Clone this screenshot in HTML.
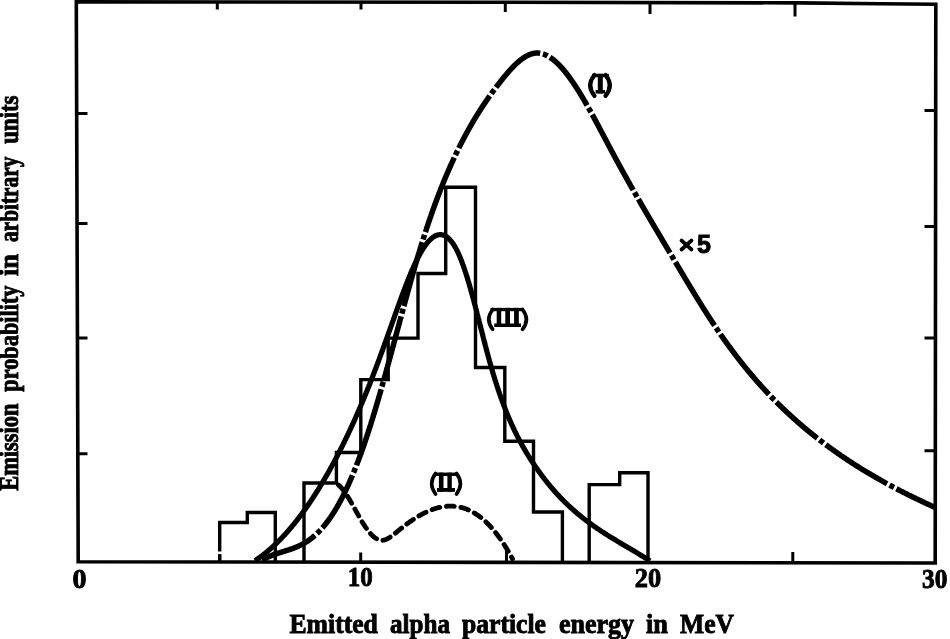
<!DOCTYPE html>
<html><head><meta charset="utf-8"><style>
html,body{margin:0;padding:0;background:#fff;}
svg{display:block;filter:grayscale(1);}
text{font-family:"Liberation Serif", serif;font-weight:bold;fill:#000;stroke:#000;stroke-width:0.9px;}
</style></head><body>
<svg width="950" height="639" viewBox="0 0 950 639">
<rect width="950" height="639" fill="#fff"/>
<g fill="none" stroke="#000" stroke-linecap="butt" stroke-linejoin="miter">
<path d="M76.3 1.9 L500 2.3 L800 2.9 L880 3.8 L935.8 4.2 L935.2 563.0 L78.2 561.8 Z" stroke-width="3.6"/>
<path d="M77 113.4 H87.5 M77 223.5 H87.5 M77 338 H87.5 M77 453.8 H87.5 M935.5 110.5 H924.5 M935.5 226.4 H924.5 M935.5 338 H924.5 M935.5 450.8 H924.5 M219.7 562 V554.3 M360.7 562 V552.5 M506.5 562 V550.5 M792.8 562 V552 M217.3 3 V9.5 M361 3 V9.5 M505.3 3 V12 M650 3 V14 M795 3 V16.5" stroke-width="3"/>
<path d="M219.7 562 V554.3 M219.7 551.6 V522.5 H247.3 V512.5 H275.3 V562 M304 562 V483 H336.4 V452.5 H360.8 V379.6 H388.2 V338.1 H418 V273.5 H445.7 V187.2 H475.5 V367.5 H504.8 V441.3 H533.5 V512 H562.4 V562 M589.2 562 V484.6 H619.7 V472.8 H648 V562" stroke-width="3.4"/>
<path d="M255.00 560.66 L255.42 560.39 L255.83 560.11 L256.25 559.83 L256.66 559.55 L257.08 559.27 L257.49 558.98 L257.90 558.70 L258.31 558.41 L258.72 558.12 L259.12 557.83 L259.53 557.54 L259.93 557.25 L260.34 556.95 L260.74 556.66 L261.14 556.36 L261.54 556.06 L261.94 555.76 L262.34 555.46 L262.74 555.15 L263.13 554.85 L263.53 554.54 L263.92 554.23 L264.31 553.92 L264.71 553.61 L265.10 553.30 L265.49 552.99 L265.87 552.67 L266.26 552.35 L266.65 552.04 L267.03 551.72 L267.42 551.40 L267.80 551.08 L268.18 550.75 L268.56 550.43 L268.94 550.11 L269.32 549.78 L269.70 549.45 L270.08 549.12 L270.45 548.79 L270.83 548.46 L271.20 548.13 L271.57 547.80 L271.95 547.46 L272.32 547.13 L272.69 546.79 L273.06 546.45 L273.42 546.11 L273.79 545.77 L274.16 545.43 L274.52 545.09 L274.88 544.75 L275.25 544.40 L275.61 544.06 L275.97 543.71 L276.33 543.37 L276.69 543.02 L277.05 542.67 L277.40 542.32 L277.76 541.97 L278.11 541.62 L278.47 541.26 L278.82 540.91 L279.17 540.55 L279.53 540.20 L279.88 539.84 L280.23 539.48 L280.57 539.13 L280.92 538.77 L281.27 538.41 L281.62 538.05 L281.96 537.68 L282.30 537.32 L282.65 536.96 L282.99 536.59 L283.33 536.23 L283.67 535.86 L284.01 535.50 L284.35 535.13 L284.69 534.76 L285.03 534.39 L285.36 534.02 L285.70 533.65 L286.03 533.28 L286.37 532.91 L286.70 532.53 L287.03 532.16 L287.36 531.79 L287.69 531.41 L288.02 531.03 L288.35 530.66 L288.68 530.28 L289.01 529.90 L289.33 529.52 L289.66 529.14 L289.99 528.76 L290.31 528.38 L290.63 528.00 L290.96 527.62 L291.28 527.24 L291.60 526.85 L291.92 526.47 L292.24 526.09 L292.56 525.70 L292.87 525.31 L293.19 524.93 L293.51 524.54 L293.82 524.15 L294.14 523.76 L294.45 523.38 L294.77 522.99 L295.08 522.60 L295.39 522.21 L295.70 521.81 L296.01 521.42 L296.32 521.03 L296.63 520.64 L296.94 520.24 L297.25 519.85 L297.55 519.45 L297.86 519.06 L298.17 518.66 L298.47 518.27 L298.78 517.87 L299.08 517.47 L299.38 517.07 L299.68 516.68 L299.99 516.28 L300.29 515.88 L300.59 515.48 L300.89 515.08 L301.18 514.68 L301.48 514.28 L301.78 513.87 L302.08 513.47 L302.37 513.07 L302.67 512.67 L302.96 512.26 L303.26 511.86 L303.55 511.45 L303.84 511.05 L304.14 510.64 L304.43 510.24 L304.72 509.83 L305.01 509.42 L305.30 509.01 L305.59 508.61 L305.88 508.20 L306.17 507.79 L306.45 507.38 L306.74 506.97 L307.03 506.56 L307.31 506.15 L307.60 505.74 L307.88 505.33 L308.16 504.92 L308.45 504.50 L308.73 504.09 L309.01 503.68 L309.29 503.27 L309.57 502.85 L309.85 502.44 L310.13 502.02 L310.41 501.61 L310.69 501.19 L310.97 500.78 L311.25 500.36 L311.52 499.95 L311.80 499.53 L312.08 499.11 L312.35 498.69 L312.63 498.28 L312.90 497.86 L313.17 497.44 L313.45 497.02 L313.72 496.60 L313.99 496.18 L314.26 495.76 L314.53 495.34 L314.80 494.92 L315.07 494.50 L315.34 494.08 L315.61 493.66 L315.88 493.24 L316.15 492.81 L316.41 492.39 L316.68 491.97 L316.95 491.54 L317.21 491.12 L317.48 490.70 L317.74 490.27 L318.01 489.85 L318.27 489.42 L318.53 489.00 L318.80 488.57 L319.06 488.15 L319.32 487.72 L319.58 487.29 L319.84 486.87 L320.10 486.44 L320.36 486.01 L320.62 485.59 L320.88 485.16 L321.14 484.73 L321.40 484.30 L321.65 483.87 L321.91 483.44 L322.17 483.02 L322.42 482.59 L322.68 482.16 L322.93 481.73 L323.19 481.30 L323.44 480.87 L323.70 480.43 L323.95 480.00 L324.20 479.57 L324.46 479.14 L324.71 478.71 L324.96 478.28 L325.21 477.84 L325.46 477.41 L325.71 476.98 L325.96 476.54 L326.21 476.11 L326.46 475.68 L326.71 475.24 L326.95 474.81 L327.20 474.38 L327.45 473.94 L327.70 473.51 L327.94 473.07 L328.19 472.64 L328.43 472.20 L328.68 471.76 L328.92 471.33 L329.17 470.89 L329.41 470.45 L329.65 470.02 L329.90 469.58 L330.14 469.14 L330.38 468.71 L330.62 468.27 L330.87 467.83 L331.11 467.39 L331.35 466.95 L331.59 466.52 L331.83 466.08 L332.07 465.64 L332.31 465.20 L332.54 464.76 L332.78 464.32 L333.02 463.88 L333.26 463.44 L333.49 463.00 L333.73 462.56 L333.97 462.12 L334.20 461.68 L334.44 461.24 L334.67 460.79 L334.91 460.35 L335.14 459.91 L335.38 459.47 L335.61 459.03 L335.84 458.59 L336.08 458.14 L336.31 457.70 L336.54 457.26 L336.77 456.81 L337.00 456.37 L337.23 455.93 L337.46 455.48 L337.69 455.04 L337.92 454.60 L338.15 454.15 L338.38 453.71 L338.61 453.26 L338.84 452.82 L339.07 452.37 L339.29 451.93 L339.52 451.48 L339.75 451.04 L339.98 450.59 L340.20 450.14 L340.43 449.70 L340.65 449.25 L340.88 448.81 L341.10 448.36 L341.33 447.91 L341.55 447.47 L341.77 447.02 L342.00 446.57 L342.22 446.12 L342.44 445.68 L342.67 445.23 L342.89 444.78 L343.11 444.33 L343.33 443.88 L343.55 443.43 L343.77 442.99 L343.99 442.54 L344.21 442.09 L344.43 441.64 L344.65 441.19 L344.87 440.74 L345.09 440.29 L345.31 439.84 L345.53 439.39 L345.74 438.94 L345.96 438.49 L346.18 438.04 L346.39 437.59 L346.61 437.14 L346.83 436.69 L347.04 436.24 L347.26 435.78 L347.47 435.33 L347.69 434.88 L347.90 434.43 L348.11 433.98 L348.33 433.53 L348.54 433.07 L348.75 432.62 L348.97 432.17 L349.18 431.72 L349.39 431.26 L349.60 430.81 L349.82 430.36 L350.03 429.90 L350.24 429.45 L350.45 429.00 L350.66 428.54 L350.87 428.09 L351.08 427.64 L351.29 427.18 L351.50 426.73 L351.71 426.27 L351.91 425.82 L352.12 425.36 L352.33 424.91 L352.54 424.45 L352.74 424.00 L352.95 423.54 L353.16 423.09 L353.36 422.63 L353.57 422.18 L353.78 421.72 L353.98 421.27 L354.19 420.81 L354.39 420.35 L354.60 419.90 L354.80 419.44 L355.00 418.99 L355.21 418.53 L355.41 418.07 L355.61 417.61 L355.82 417.16 L356.02 416.70 L356.22 416.24 L356.42 415.79 L356.63 415.33 L356.83 414.87 L357.03 414.41 L357.23 413.96 L357.43 413.50 L357.63 413.04 L357.83 412.58 L358.03 412.12 L358.23 411.66 L358.43 411.21 L358.63 410.75 L358.83 410.29 L359.02 409.83 L359.22 409.37 L359.42 408.91 L359.62 408.45 L359.81 407.99 L360.01 407.53 L360.21 407.07 L360.41 406.61 L360.60 406.15 L360.80 405.69 L360.99 405.23 L361.19 404.77 L361.38 404.31 L361.58 403.85 L361.77 403.39 L361.97 402.93 L362.16 402.47 L362.36 402.01 L362.55 401.55 L362.74 401.09 L362.94 400.63 L363.13 400.16 L363.32 399.70 L363.51 399.24 L363.71 398.78 L363.90 398.32 L364.09 397.86 L364.28 397.39 L364.47 396.93 L364.66 396.47 L364.85 396.01 L365.04 395.55 L365.23 395.08 L365.42 394.62 L365.61 394.16 L365.80 393.69 L365.99 393.23 L366.18 392.77 L366.37 392.31 L366.56 391.84 L366.74 391.38 L366.93 390.92 L367.12 390.45 L367.31 389.99 L367.49 389.53 L367.68 389.06 L367.87 388.60 L368.05 388.13 L368.24 387.67 L368.43 387.21 L368.61 386.74 L368.80 386.28 L368.98 385.81 L369.17 385.35 L369.35 384.88 L369.54 384.42 L369.72 383.95 L369.90 383.49 L370.09 383.02 L370.27 382.56 L370.45 382.09 L370.64 381.63 L370.82 381.16 L371.00 380.70 L371.19 380.23 L371.37 379.77 L371.55 379.30 L371.73 378.83 L371.91 378.37 L372.09 377.90 L372.27 377.44 L372.46 376.97 L372.64 376.50 L372.82 376.04 L373.00 375.57 L373.18 375.10 L373.36 374.64 L373.54 374.17 L373.72 373.70 L373.89 373.24 L374.07 372.77 L374.25 372.30 L374.43 371.84 L374.61 371.37 L374.79 370.90 L374.96 370.44 L375.14 369.97 L375.32 369.50 L375.50 369.03 L375.67 368.56 L375.85 368.10 L376.03 367.63 L376.20 367.16 L376.38 366.69 L376.55 366.23 L376.73 365.76 L376.91 365.29 L377.08 364.82 L377.26 364.35 L377.43 363.88 L377.61 363.42 L377.78 362.95 L377.95 362.48 L378.13 362.01 L378.30 361.54 L378.48 361.07 L378.65 360.60 L378.82 360.13 L379.00 359.67 L379.17 359.20 L379.34 358.73 L379.52 358.26 L379.69 357.79 L379.86 357.32 L380.04 356.85 L380.21 356.38 L380.38 355.91 L380.55 355.44 L380.72 354.97 L380.90 354.50 L381.07 354.03 L381.24 353.56 L381.41 353.09 L381.58 352.63 L381.75 352.16 L381.92 351.69 L382.10 351.22 L382.27 350.75 L382.44 350.28 L382.61 349.81 L382.78 349.34 L382.95 348.87 L383.12 348.40 L383.29 347.93 L383.46 347.46 L383.63 346.99 L383.80 346.52 L383.97 346.04 L384.14 345.57 L384.31 345.10 L384.48 344.63 L384.65 344.16 L384.82 343.69 L384.99 343.22 L385.16 342.75 L385.32 342.28 L385.49 341.81 L385.66 341.34 L385.83 340.87 L386.00 340.40 L386.17 339.93 L386.34 339.46 L386.51 338.99 L386.67 338.52 L386.84 338.05 L387.01 337.57 L387.18 337.10 L387.35 336.63 L387.52 336.16 L387.68 335.69 L387.85 335.22 L388.02 334.75 L388.19 334.28 L388.36 333.81 L388.52 333.34 L388.69 332.87 L388.86 332.39 L389.03 331.92 L389.20 331.45 L389.36 330.98 L389.53 330.51 L389.70 330.04 L389.87 329.57 L390.03 329.10 L390.20 328.63 L390.37 328.15 L390.54 327.68 L390.70 327.21 L390.87 326.74 L391.04 326.27 L391.21 325.80 L391.37 325.33 L391.54 324.86 L391.71 324.39 L391.87 323.91 L392.04 323.44 L392.21 322.97 L392.38 322.50 L392.54 322.03 L392.71 321.56 L392.88 321.09 L393.05 320.62 L393.21 320.14 L393.38 319.67 L393.55 319.20 L393.71 318.73 L393.88 318.26 L394.05 317.79 L394.22 317.32 L394.38 316.85 L394.55 316.38 L394.72 315.90 L394.89 315.43 L395.05 314.96 L395.22 314.49 L395.39 314.02 L395.56 313.55 L395.72 313.08 L395.89 312.61 L396.06 312.14 L396.23 311.66 L396.39 311.19 L396.56 310.72 L396.73 310.25 L396.90 309.78 L397.07 309.31 L397.23 308.84 L397.40 308.37 L397.57 307.90 L397.74 307.43 L397.91 306.96 L398.08 306.49 L398.25 306.01 L398.42 305.54 L398.58 305.07 L398.75 304.60 L398.92 304.13 L399.09 303.66 L399.26 303.19 L399.43 302.72 L399.60 302.25 L399.77 301.78 L399.94 301.31 L400.11 300.84 L400.28 300.37 L400.46 299.90 L400.63 299.43 L400.80 298.96 L400.97 298.49 L401.14 298.02 L401.31 297.55 L401.49 297.08 L401.66 296.61 L401.83 296.15 L402.00 295.68 L402.18 295.21 L402.35 294.74 L402.52 294.27 L402.70 293.80 L402.87 293.33 L403.05 292.86 L403.22 292.39 L403.40 291.93 L403.57 291.46 L403.75 290.99 L403.92 290.52 L404.10 290.05 L404.28 289.59 L404.45 289.12 L404.63 288.65 L404.81 288.18 L404.99 287.72 L405.16 287.25 L405.34 286.78 L405.52 286.32 L405.70 285.85 L405.88 285.38 L406.06 284.92 L406.24 284.45 L406.42 283.98 L406.61 283.52 L406.79 283.05 L406.97 282.59 L407.15 282.12 L407.34 281.66 L407.52 281.19 L407.70 280.73 L407.89 280.26 L408.07 279.80 L408.26 279.33 L408.45 278.87 L408.63 278.41 L408.82 277.94 L409.01 277.48 L409.20 277.02 L409.39 276.55 L409.58 276.09 L409.77 275.63 L409.96 275.17 L410.15 274.70 L410.34 274.24 L410.53 273.78 L410.73 273.32 L410.92 272.86 L411.12 272.40 L411.31 271.94 L411.51 271.48 L411.71 271.02 L411.91 270.56 L412.10 270.10 L412.30 269.64 L412.50 269.19 L412.71 268.73 L412.91 268.27 L413.11 267.81 L413.32 267.36 L413.52 266.90 L413.73 266.45 L413.93 265.99 L414.14 265.54 L414.35 265.08 L414.56 264.63 L414.77 264.17 L414.98 263.72 L415.20 263.27 L415.41 262.82 L415.63 262.37 L415.84 261.92 L416.06 261.47 L416.28 261.02 L416.50 260.57 L416.72 260.12 L416.94 259.67 L417.17 259.23 L417.39 258.78 L417.62 258.33 L417.85 257.89 L418.08 257.44 L418.31 257.00 L418.54 256.56 L418.78 256.12 L419.02 255.68 L419.25 255.24 L419.49 254.80 L419.73 254.36 L419.98 253.92 L420.22 253.49 L420.47 253.05 L420.72 252.62 L420.97 252.19 L421.22 251.75 L421.48 251.32 L421.73 250.90 L421.99 250.47 L422.25 250.04 L422.52 249.62 L422.78 249.19 L423.05 248.77 L423.32 248.35 L423.60 247.93 L423.87 247.52 L424.15 247.10 L424.43 246.69 L424.72 246.28 L425.01 245.87 L425.30 245.46 L425.59 245.06 L425.89 244.66 L426.19 244.26 L426.50 243.86 L426.80 243.47 L427.12 243.08 L427.43 242.69 L427.75 242.31 L428.08 241.93 L428.41 241.55 L428.74 241.18 L429.08 240.81 L429.43 240.45 L429.78 240.09 L430.13 239.74 L430.49 239.39 L430.86 239.05 L431.23 238.72 L431.61 238.39 L431.99 238.07 L432.39 237.76 L432.78 237.46 L433.19 237.17 L433.60 236.89 L434.02 236.62 L434.45 236.36 L434.89 236.12 L435.33 235.89 L435.78 235.67 L436.24 235.47 L436.71 235.29 L437.18 235.13 L437.66 234.99 L438.15 234.87 L438.64 234.78 L439.13 234.71 L439.63 234.66 L440.13 234.64 L440.63 234.65 L441.13 234.68 L441.63 234.73 L442.12 234.82 L442.61 234.92 L443.09 235.06 L443.57 235.21 L444.03 235.39 L444.49 235.58 L444.94 235.80 L445.39 236.03 L445.82 236.28 L446.24 236.55 L446.66 236.83 L447.06 237.12 L447.46 237.43 L447.85 237.74 L448.22 238.07 L448.60 238.41 L448.96 238.75 L449.31 239.10 L449.66 239.46 L450.00 239.83 L450.33 240.20 L450.66 240.58 L450.98 240.96 L451.30 241.35 L451.61 241.74 L451.91 242.14 L452.21 242.54 L452.50 242.95 L452.79 243.36 L453.07 243.77 L453.35 244.19 L453.62 244.60 L453.89 245.03 L454.15 245.45 L454.42 245.88 L454.67 246.30 L454.93 246.74 L455.18 247.17 L455.42 247.60 L455.67 248.04 L455.91 248.48 L456.14 248.92 L456.38 249.36 L456.61 249.81 L456.84 250.25 L457.06 250.70 L457.28 251.14 L457.50 251.59 L457.72 252.04 L457.93 252.50 L458.15 252.95 L458.36 253.40 L458.57 253.86 L458.77 254.31 L458.97 254.77 L459.18 255.23 L459.38 255.69 L459.57 256.14 L459.77 256.60 L459.96 257.07 L460.15 257.53 L460.34 257.99 L460.53 258.45 L460.72 258.92 L460.90 259.38 L461.09 259.85 L461.27 260.31 L461.45 260.78 L461.63 261.24 L461.81 261.71 L461.99 262.18 L462.16 262.65 L462.34 263.12 L462.51 263.59 L462.68 264.05 L462.85 264.52 L463.02 265.00 L463.19 265.47 L463.36 265.94 L463.52 266.41 L463.69 266.88 L463.85 267.35 L464.02 267.83 L464.18 268.30 L464.34 268.77 L464.50 269.24 L464.66 269.72 L464.82 270.19 L464.98 270.67 L465.14 271.14 L465.29 271.62 L465.45 272.09 L465.60 272.57 L465.76 273.04 L465.91 273.52 L466.06 273.99 L466.22 274.47 L466.37 274.95 L466.52 275.42 L466.67 275.90 L466.82 276.38 L466.97 276.85 L467.12 277.33 L467.26 277.81 L467.41 278.29 L467.56 278.77 L467.70 279.24 L467.85 279.72 L467.99 280.20 L468.14 280.68 L468.28 281.16 L468.43 281.64 L468.57 282.12 L468.71 282.60 L468.85 283.08 L468.99 283.56 L469.13 284.03 L469.27 284.51 L469.41 284.99 L469.55 285.47 L469.69 285.96 L469.83 286.44 L469.97 286.92 L470.11 287.40 L470.25 287.88 L470.38 288.36 L470.52 288.84 L470.65 289.32 L470.79 289.80 L470.93 290.28 L471.06 290.76 L471.20 291.25 L471.33 291.73 L471.46 292.21 L471.60 292.69 L471.73 293.17 L471.86 293.65 L472.00 294.14 L472.13 294.62 L472.26 295.10 L472.39 295.58 L472.53 296.07 L472.66 296.55 L472.79 297.03 L472.92 297.51 L473.05 298.00 L473.18 298.48 L473.31 298.96 L473.44 299.44 L473.57 299.93 L473.70 300.41 L473.83 300.89 L473.96 301.38 L474.09 301.86 L474.21 302.34 L474.34 302.83 L474.47 303.31 L474.60 303.79 L474.73 304.28 L474.85 304.76 L474.98 305.24 L475.11 305.73 L475.23 306.21 L475.36 306.69 L475.49 307.18 L475.62 307.66 L475.74 308.15 L475.87 308.63 L475.99 309.11 L476.12 309.60 L476.25 310.08 L476.37 310.56 L476.50 311.05 L476.62 311.53 L476.75 312.02 L476.87 312.50 L477.00 312.98 L477.12 313.47 L477.25 313.95 L477.37 314.44 L477.50 314.92 L477.62 315.41 L477.75 315.89 L477.87 316.37 L478.00 316.86 L478.12 317.34 L478.24 317.83 L478.37 318.31 L478.49 318.80 L478.62 319.28 L478.74 319.76 L478.86 320.25 L478.99 320.73 L479.11 321.22 L479.24 321.70 L479.36 322.19 L479.48 322.67 L479.61 323.16 L479.73 323.64 L479.85 324.12 L479.98 324.61 L480.10 325.09 L480.23 325.58 L480.35 326.06 L480.47 326.55 L480.60 327.03 L480.72 327.52 L480.84 328.00 L480.97 328.48 L481.09 328.97 L481.21 329.45 L481.34 329.94 L481.46 330.42 L481.59 330.91 L481.71 331.39 L481.83 331.88 L481.96 332.36 L482.08 332.84 L482.21 333.33 L482.33 333.81 L482.45 334.30 L482.58 334.78 L482.70 335.27 L482.83 335.75 L482.95 336.23 L483.07 336.72 L483.20 337.20 L483.32 337.69 L483.45 338.17 L483.57 338.66 L483.70 339.14 L483.82 339.62 L483.95 340.11 L484.07 340.59 L484.20 341.08 L484.32 341.56 L484.45 342.04 L484.57 342.53 L484.70 343.01 L484.82 343.50 L484.95 343.98 L485.08 344.46 L485.20 344.95 L485.33 345.43 L485.45 345.92 L485.58 346.40 L485.71 346.88 L485.84 347.37 L485.96 347.85 L486.09 348.33 L486.22 348.82 L486.34 349.30 L486.47 349.78 L486.60 350.27 L486.73 350.75 L486.86 351.23 L486.98 351.72 L487.11 352.20 L487.24 352.68 L487.37 353.17 L487.50 353.65 L487.63 354.13 L487.76 354.62 L487.89 355.10 L488.02 355.58 L488.15 356.06 L488.28 356.55 L488.41 357.03 L488.54 357.51 L488.68 357.99 L488.81 358.48 L488.94 358.96 L489.07 359.44 L489.21 359.92 L489.34 360.40 L489.47 360.89 L489.61 361.37 L489.74 361.85 L489.87 362.33 L490.01 362.81 L490.14 363.29 L490.28 363.78 L490.42 364.26 L490.55 364.74 L490.69 365.22 L490.83 365.70 L490.96 366.18 L491.10 366.66 L491.24 367.14 L491.38 367.62 L491.52 368.10 L491.66 368.58 L491.79 369.06 L491.94 369.54 L492.08 370.02 L492.22 370.50 L492.36 370.98 L492.50 371.46 L492.64 371.94 L492.78 372.42 L492.93 372.90 L493.07 373.38 L493.21 373.86 L493.36 374.34 L493.50 374.81 L493.65 375.29 L493.79 375.77 L493.94 376.25 L494.08 376.73 L494.23 377.21 L494.38 377.68 L494.52 378.16 L494.67 378.64 L494.82 379.12 L494.97 379.59 L495.12 380.07 L495.27 380.55 L495.42 381.03 L495.57 381.50 L495.72 381.98 L495.87 382.46 L496.02 382.93 L496.18 383.41 L496.33 383.88 L496.48 384.36 L496.64 384.84 L496.79 385.31 L496.94 385.79 L497.10 386.26 L497.26 386.74 L497.41 387.21 L497.57 387.69 L497.72 388.16 L497.88 388.64 L498.04 389.11 L498.20 389.59 L498.36 390.06 L498.52 390.53 L498.68 391.01 L498.84 391.48 L499.00 391.95 L499.16 392.43 L499.32 392.90 L499.49 393.37 L499.65 393.85 L499.81 394.32 L499.98 394.79 L500.14 395.26 L500.31 395.73 L500.47 396.21 L500.64 396.68 L500.81 397.15 L500.97 397.62 L501.14 398.09 L501.31 398.56 L501.48 399.03 L501.65 399.50 L501.82 399.97 L501.99 400.44 L502.16 400.91 L502.33 401.38 L502.51 401.85 L502.68 402.32 L502.85 402.79 L503.03 403.26 L503.20 403.72 L503.38 404.19 L503.56 404.66 L503.73 405.13 L503.91 405.60 L504.09 406.06 L504.27 406.53 L504.45 407.00 L504.63 407.46 L504.81 407.93 L504.99 408.40 L505.17 408.86 L505.35 409.33 L505.53 409.79 L505.72 410.26 L505.90 410.72 L506.09 411.19 L506.27 411.65 L506.46 412.12 L506.65 412.58 L506.83 413.04 L507.02 413.51 L507.21 413.97 L507.40 414.43 L507.59 414.89 L507.78 415.36 L507.97 415.82 L508.16 416.28 L508.36 416.74 L508.55 417.20 L508.75 417.66 L508.94 418.12 L509.14 418.58 L509.33 419.04 L509.53 419.50 L509.73 419.96 L509.93 420.42 L510.13 420.88 L510.33 421.34 L510.53 421.79 L510.73 422.25 L510.93 422.71 L511.13 423.17 L511.34 423.62 L511.54 424.08 L511.75 424.53 L511.95 424.99 L512.16 425.45 L512.37 425.90 L512.58 426.36 L512.79 426.81 L513.00 427.26 L513.21 427.72 L513.42 428.17 L513.63 428.62 L513.84 429.07 L514.06 429.53 L514.27 429.98 L514.49 430.43 L514.70 430.88 L514.92 431.33 L515.14 431.78 L515.36 432.23 L515.58 432.68 L515.80 433.13 L516.02 433.58 L516.24 434.02 L516.46 434.47 L516.69 434.92 L516.91 435.37 L517.14 435.81 L517.36 436.26 L517.59 436.70 L517.82 437.15 L518.05 437.59 L518.28 438.04 L518.51 438.48 L518.74 438.93 L518.97 439.37 L519.20 439.81 L519.43 440.25 L519.67 440.69 L519.90 441.14 L520.14 441.58 L520.38 442.02 L520.62 442.46 L520.85 442.90 L521.09 443.33 L521.33 443.77 L521.58 444.21 L521.82 444.65 L522.06 445.09 L522.30 445.52 L522.55 445.96 L522.80 446.39 L523.04 446.83 L523.29 447.26 L523.54 447.70 L523.79 448.13 L524.04 448.56 L524.29 449.00 L524.54 449.43 L524.79 449.86 L525.04 450.29 L525.30 450.72 L525.55 451.15 L525.81 451.58 L526.07 452.01 L526.32 452.44 L526.58 452.87 L526.84 453.30 L527.10 453.72 L527.36 454.15 L527.62 454.58 L527.88 455.00 L528.15 455.43 L528.41 455.85 L528.68 456.27 L528.94 456.70 L529.21 457.12 L529.48 457.54 L529.74 457.97 L530.01 458.39 L530.28 458.81 L530.55 459.23 L530.82 459.65 L531.10 460.07 L531.37 460.49 L531.64 460.91 L531.91 461.33 L532.19 461.74 L532.46 462.16 L532.74 462.58 L533.02 462.99 L533.30 463.41 L533.57 463.83 L533.85 464.24 L534.13 464.66 L534.41 465.07 L534.69 465.48 L534.97 465.90 L535.26 466.31 L535.54 466.72 L535.82 467.13 L536.11 467.54 L536.39 467.95 L536.68 468.36 L536.97 468.77 L537.25 469.18 L537.54 469.59 L537.83 470.00 L538.12 470.41 L538.41 470.81 L538.70 471.22 L538.99 471.63 L539.29 472.03 L539.58 472.44 L539.87 472.84 L540.17 473.25 L540.46 473.65 L540.76 474.05 L541.06 474.45 L541.35 474.86 L541.65 475.26 L541.95 475.66 L542.25 476.06 L542.55 476.46 L542.85 476.86 L543.16 477.25 L543.46 477.65 L543.76 478.05 L544.07 478.45 L544.37 478.84 L544.68 479.24 L544.99 479.63 L545.29 480.03 L545.60 480.42 L545.91 480.81 L546.22 481.20 L546.53 481.60 L546.84 481.99 L547.16 482.38 L547.47 482.77 L547.78 483.16 L548.10 483.54 L548.41 483.93 L548.73 484.32 L549.05 484.71 L549.37 485.09 L549.68 485.48 L550.00 485.86 L550.32 486.25 L550.65 486.63 L550.97 487.01 L551.29 487.39 L551.61 487.77 L551.94 488.15 L552.26 488.53 L552.59 488.91 L552.92 489.29 L553.24 489.67 L553.57 490.05 L553.90 490.42 L554.23 490.80 L554.56 491.17 L554.89 491.55 L555.23 491.92 L555.56 492.29 L555.89 492.67 L556.23 493.04 L556.57 493.41 L556.90 493.78 L557.24 494.15 L557.58 494.51 L557.92 494.88 L558.26 495.25 L558.60 495.61 L558.94 495.98 L559.28 496.34 L559.63 496.71 L559.97 497.07 L560.31 497.43 L560.66 497.79 L561.01 498.15 L561.35 498.51 L561.70 498.87 L562.05 499.23 L562.40 499.59 L562.75 499.94 L563.10 500.30 L563.45 500.65 L563.81 501.01 L564.16 501.36 L564.52 501.71 L564.87 502.07 L565.23 502.42 L565.59 502.77 L565.94 503.12 L566.30 503.46 L566.66 503.81 L567.02 504.16 L567.38 504.50 L567.74 504.85 L568.11 505.19 L568.47 505.54 L568.84 505.88 L569.20 506.22 L569.57 506.56 L569.93 506.90 L570.30 507.24 L570.67 507.58 L571.04 507.92 L571.41 508.25 L571.78 508.59 L572.15 508.92 L572.52 509.26 L572.90 509.59 L573.27 509.92 L573.64 510.25 L574.02 510.58 L574.40 510.91 L574.77 511.24 L575.15 511.57 L575.53 511.89 L575.91 512.22 L576.29 512.55 L576.67 512.87 L577.05 513.19 L577.43 513.52 L577.81 513.84 L578.20 514.16 L578.58 514.48 L578.97 514.80 L579.35 515.11 L579.74 515.43 L580.13 515.75 L580.52 516.06 L580.90 516.38 L581.29 516.69 L581.68 517.00 L582.07 517.32 L582.47 517.63 L582.86 517.94 L583.25 518.25 L583.64 518.56 L584.04 518.86 L584.43 519.17 L584.83 519.48 L585.22 519.78 L585.62 520.09 L586.02 520.39 L586.42 520.69 L586.82 520.99 L587.21 521.29 L587.61 521.59 L588.02 521.89 L588.42 522.19 L588.82 522.49 L589.22 522.79 L589.62 523.08 L590.03 523.38 L590.43 523.67 L590.84 523.97 L591.24 524.26 L591.65 524.55 L592.05 524.84 L592.46 525.13 L592.87 525.42 L593.28 525.71 L593.69 526.00 L594.09 526.28 L594.50 526.57 L594.92 526.86 L595.33 527.14 L595.74 527.43 L596.15 527.71 L596.56 527.99 L596.97 528.27 L597.39 528.56 L597.80 528.84 L598.22 529.12 L598.63 529.40 L599.05 529.67 L599.46 529.95 L599.88 530.23 L600.29 530.51 L600.71 530.78 L601.13 531.06 L601.55 531.33 L601.96 531.60 L602.38 531.88 L602.80 532.15 L603.22 532.42 L603.64 532.69 L604.06 532.97 L604.48 533.24 L604.90 533.51 L605.33 533.77 L605.75 534.04 L606.17 534.31 L606.59 534.58 L607.01 534.85 L607.44 535.11 L607.86 535.38 L608.28 535.64 L608.71 535.91 L609.13 536.17 L609.56 536.44 L609.98 536.70 L610.41 536.96 L610.83 537.23 L611.26 537.49 L611.69 537.75 L612.11 538.01 L612.54 538.27 L612.96 538.53 L613.39 538.79 L613.82 539.05 L614.25 539.31 L614.67 539.57 L615.10 539.83 L615.53 540.09 L615.96 540.35 L616.39 540.61 L616.81 540.86 L617.24 541.12 L617.67 541.38 L618.10 541.63 L618.53 541.89 L618.96 542.15 L619.39 542.40 L619.82 542.66 L620.25 542.92 L620.68 543.17 L621.11 543.43 L621.54 543.68 L621.97 543.94 L622.40 544.19 L622.83 544.45 L623.26 544.70 L623.69 544.96 L624.12 545.21 L624.55 545.47 L624.98 545.72 L625.41 545.97 L625.84 546.23 L626.27 546.48 L626.70 546.74 L627.13 546.99 L627.56 547.25 L627.99 547.50 L628.42 547.76 L628.85 548.01 L629.28 548.27 L629.71 548.52 L630.14 548.77 L630.57 549.03 L631.00 549.28 L631.43 549.54 L631.86 549.80 L632.29 550.05 L632.72 550.31 L633.15 550.56 L633.58 550.82 L634.01 551.07 L634.44 551.33 L634.87 551.59 L635.30 551.84 L635.73 552.10 L636.16 552.36 L636.58 552.62 L637.01 552.87 L637.44 553.13 L637.87 553.39 L638.30 553.65 L638.72 553.91 L639.15 554.17 L639.58 554.43 L640.01 554.69 L640.43 554.95 L640.86 555.21 L641.28 555.47 L641.71 555.73 L642.14 556.00 L642.56 556.26 L642.99 556.52 L643.41 556.79 L643.84 557.05 L644.26 557.31 L644.68 557.58 L645.11 557.84 L645.53 558.11 L645.95 558.38 L646.38 558.64 L646.80 558.91 L647.22 559.18 L647.64 559.45 L648.07 559.72 L648.49 559.99 L648.91 560.26 L649.33 560.53 L649.75 560.80 L650.00 560.96" stroke-width="5.2"/>
<path d="M262.00 560.14 L262.43 559.89 L262.87 559.64 L263.30 559.40 L263.74 559.16 L264.18 558.92 L264.62 558.69 L265.07 558.46 L265.51 558.23 L265.96 558.00 L266.41 557.78 L266.86 557.57 L267.31 557.36 L267.76 557.15 L268.22 556.94 L268.68 556.74 L269.13 556.53 L269.59 556.34 L270.05 556.14 L270.52 555.95 L270.98 555.76 L271.44 555.58 L271.91 555.40 L272.38 555.22 L272.84 555.04 L273.31 554.86 L273.78 554.69 L274.25 554.52 L274.72 554.35 L275.19 554.19 L275.67 554.02 L276.14 553.86 L276.61 553.70 L277.09 553.54 L277.56 553.38 L278.04 553.23 L278.51 553.07 L278.99 552.92 L279.46 552.77 L279.94 552.62 L280.42 552.47 L280.89 552.32 L281.37 552.17 L281.85 552.02 L282.33 551.87 L282.80 551.72 L283.28 551.58 L283.76 551.43 L284.24 551.28 L284.71 551.13 L285.19 550.98 L285.67 550.83 L286.15 550.68 L286.62 550.53 L287.10 550.38 L287.58 550.23 L288.05 550.08 L288.53 549.92 L289.00 549.77 L289.48 549.61 L289.95 549.45 L290.43 549.29 L290.90 549.13 L291.37 548.97 L291.84 548.80 L292.31 548.63 L292.78 548.46 L293.25 548.29 L293.72 548.11 L294.19 547.94 L294.66 547.76 L295.12 547.57 L295.58 547.39 L296.05 547.20 L296.51 547.01 L296.97 546.82 L297.43 546.62 L297.89 546.42 L298.35 546.21 L298.80 546.01 L299.25 545.80 L299.71 545.59 L300.16 545.37 L300.61 545.15 L301.05 544.93 L301.50 544.70 L301.94 544.47 L302.39 544.24 L302.83 544.00 L303.26 543.76 L303.70 543.51 L304.13 543.26 L304.57 543.01 L305.00 542.76 L305.42 542.50 L305.85 542.23 L306.27 541.97 L306.69 541.70 L307.11 541.43 L307.53 541.15 L307.94 540.87 L308.36 540.59 L308.77 540.30 L309.17 540.01 L309.58 539.72 L309.98 539.42 L310.38 539.12 L310.78 538.82 L311.18 538.52 L311.57 538.21 L311.96 537.90 L312.35 537.59 L312.74 537.27 L313.13 536.95 L313.51 536.63 L313.89 536.31 L314.27 535.98 L314.64 535.65 L315.02 535.32 L315.39 534.98 L315.76 534.65 L316.13 534.31 L316.49 533.97 L316.86 533.62 L317.22 533.28 L317.58 532.93 L317.93 532.58 L318.29 532.23 L318.64 531.87 L318.99 531.51 L319.34 531.16 L319.68 530.80 L320.03 530.43 L320.37 530.07 L320.71 529.70 L321.05 529.33 L321.39 528.96 L321.72 528.59 L322.05 528.22 L322.38 527.84 L322.71 527.47 L323.04 527.09 L323.36 526.71 L323.69 526.33 L324.01 525.94 L324.33 525.56 L324.64 525.17 L324.96 524.78 L325.27 524.39 L325.58 524.00 L325.89 523.61 L326.20 523.22 L326.51 522.82 L326.81 522.43 L327.12 522.03 L327.42 521.63 L327.72 521.23 L328.02 520.83 L328.31 520.43 L328.61 520.02 L328.90 519.62 L329.19 519.21 L329.48 518.80 L329.77 518.40 L330.06 517.99 L330.35 517.58 L330.63 517.16 L330.91 516.75 L331.19 516.34 L331.47 515.92 L331.75 515.51 L332.03 515.09 L332.30 514.67 L332.58 514.26 L332.85 513.84 L333.12 513.42 L333.39 513.00 L333.66 512.57 L333.93 512.15 L334.19 511.73 L334.46 511.30 L334.72 510.88 L334.98 510.45 L335.24 510.03 L335.50 509.60 L335.76 509.17 L336.01 508.74 L336.27 508.31 L336.52 507.88 L336.78 507.45 L337.03 507.02 L337.28 506.58 L337.53 506.15 L337.78 505.72 L338.02 505.28 L338.27 504.85 L338.52 504.41 L338.76 503.97 L339.00 503.54 L339.24 503.10 L339.48 502.66 L339.72 502.22 L339.96 501.78 L340.20 501.34 L340.44 500.90 L340.67 500.46 L340.91 500.02 L341.14 499.58 L341.37 499.13 L341.60 498.69 L341.83 498.25 L342.06 497.80 L342.29 497.36 L342.52 496.91 L342.75 496.47 L342.97 496.02 L343.20 495.57 L343.42 495.13 L343.64 494.68 L343.87 494.23 L344.09 493.78 L344.31 493.34 L344.53 492.89 L344.75 492.44 L344.96 491.99 L345.18 491.54 L345.40 491.09 L345.61 490.63 L345.83 490.18 L346.04 489.73 L346.26 489.28 L346.47 488.83 L346.68 488.37 L346.89 487.92 L347.10 487.47 L347.31 487.01 L347.52 486.56 L347.73 486.10 L347.94 485.65 L348.14 485.19 L348.35 484.74 L348.56 484.28 L348.76 483.83 L348.96 483.37 L349.17 482.91 L349.37 482.46 L349.57 482.00 L349.77 481.54 L349.97 481.08 L350.17 480.63 L350.37 480.17 L350.57 479.71 L350.77 479.25 L350.97 478.79 L351.17 478.33 L351.36 477.87 L351.56 477.41 L351.75 476.95 L351.95 476.49 L352.14 476.03 L352.34 475.57 L352.53 475.11 L352.72 474.64 L352.91 474.18 L353.10 473.72 L353.29 473.26 L353.48 472.80 L353.67 472.33 L353.86 471.87 L354.05 471.41 L354.24 470.94 L354.43 470.48 L354.61 470.02 L354.80 469.55 L354.98 469.09 L355.17 468.62 L355.35 468.16 L355.54 467.69 L355.72 467.23 L355.91 466.76 L356.09 466.30 L356.27 465.83 L356.45 465.37 L356.63 464.90 L356.81 464.44 L356.99 463.97 L357.17 463.50 L357.35 463.04 L357.53 462.57 L357.71 462.10 L357.89 461.63 L358.07 461.17 L358.24 460.70 L358.42 460.23 L358.60 459.76 L358.77 459.30 L358.95 458.83 L359.12 458.36 L359.30 457.89 L359.47 457.42 L359.64 456.95 L359.82 456.48 L359.99 456.01 L360.16 455.54 L360.33 455.08 L360.51 454.61 L360.68 454.14 L360.85 453.67 L361.02 453.20 L361.19 452.73 L361.36 452.26 L361.53 451.78 L361.69 451.31 L361.86 450.84 L362.03 450.37 L362.20 449.90 L362.37 449.43 L362.53 448.96 L362.70 448.49 L362.86 448.02 L363.03 447.54 L363.20 447.07 L363.36 446.60 L363.52 446.13 L363.69 445.65 L363.85 445.18 L364.02 444.71 L364.18 444.24 L364.34 443.76 L364.50 443.29 L364.67 442.82 L364.83 442.35 L364.99 441.87 L365.15 441.40 L365.31 440.93 L365.47 440.45 L365.63 439.98 L365.79 439.50 L365.95 439.03 L366.11 438.56 L366.27 438.08 L366.43 437.61 L366.58 437.13 L366.74 436.66 L366.90 436.18 L367.06 435.71 L367.21 435.23 L367.37 434.76 L367.52 434.28 L367.68 433.81 L367.84 433.33 L367.99 432.86 L368.15 432.38 L368.30 431.91 L368.45 431.43 L368.61 430.96 L368.76 430.48 L368.92 430.01 L369.07 429.53 L369.22 429.05 L369.37 428.58 L369.53 428.10 L369.68 427.62 L369.83 427.15 L369.98 426.67 L370.13 426.19 L370.28 425.72 L370.43 425.24 L370.58 424.76 L370.74 424.29 L370.89 423.81 L371.03 423.33 L371.18 422.86 L371.33 422.38 L371.48 421.90 L371.63 421.42 L371.78 420.95 L371.93 420.47 L372.08 419.99 L372.22 419.51 L372.37 419.04 L372.52 418.56 L372.67 418.08 L372.81 417.60 L372.96 417.12 L373.11 416.65 L373.25 416.17 L373.40 415.69 L373.54 415.21 L373.69 414.73 L373.83 414.26 L373.98 413.78 L374.12 413.30 L374.27 412.82 L374.41 412.34 L374.56 411.86 L374.70 411.38 L374.85 410.91 L374.99 410.43 L375.13 409.95 L375.28 409.47 L375.42 408.99 L375.56 408.51 L375.71 408.03 L375.85 407.55 L375.99 407.07 L376.13 406.59 L376.28 406.11 L376.42 405.63 L376.56 405.16 L376.70 404.68 L376.84 404.20 L376.99 403.72 L377.13 403.24 L377.27 402.76 L377.41 402.28 L377.55 401.80 L377.69 401.32 L377.83 400.84 L377.97 400.36 L378.11 399.88 L378.25 399.40 L378.39 398.92 L378.53 398.44 L378.67 397.96 L378.81 397.48 L378.95 397.00 L379.09 396.52 L379.23 396.04 L379.37 395.56 L379.50 395.08 L379.64 394.60 L379.78 394.12 L379.92 393.63 L380.06 393.15 L380.20 392.67 L380.33 392.19 L380.47 391.71 L380.61 391.23 L380.75 390.75 L380.88 390.27 L381.02 389.79 L381.16 389.31 L381.30 388.83 L381.43 388.35 L381.57 387.87 L381.71 387.38 L381.84 386.90 L381.98 386.42 L382.11 385.94 L382.25 385.46 L382.39 384.98 L382.52 384.50 L382.66 384.02 L382.79 383.54 L382.93 383.05 L383.07 382.57 L383.20 382.09 L383.34 381.61 L383.47 381.13 L383.61 380.65 L383.74 380.17 L383.88 379.69 L384.01 379.20 L384.15 378.72 L384.28 378.24 L384.42 377.76 L384.55 377.28 L384.68 376.80 L384.82 376.31 L384.95 375.83 L385.09 375.35 L385.22 374.87 L385.36 374.39 L385.49 373.91 L385.62 373.42 L385.76 372.94 L385.89 372.46 L386.02 371.98 L386.16 371.50 L386.29 371.01 L386.42 370.53 L386.56 370.05 L386.69 369.57 L386.82 369.09 L386.96 368.61 L387.09 368.12 L387.22 367.64 L387.35 367.16 L387.49 366.68 L387.62 366.19 L387.75 365.71 L387.88 365.23 L388.02 364.75 L388.15 364.27 L388.28 363.78 L388.41 363.30 L388.55 362.82 L388.68 362.34 L388.81 361.86 L388.94 361.37 L389.07 360.89 L389.21 360.41 L389.34 359.93 L389.47 359.44 L389.60 358.96 L389.73 358.48 L389.86 358.00 L390.00 357.51 L390.13 357.03 L390.26 356.55 L390.39 356.07 L390.52 355.58 L390.65 355.10 L390.78 354.62 L390.92 354.14 L391.05 353.65 L391.18 353.17 L391.31 352.69 L391.44 352.21 L391.57 351.72 L391.70 351.24 L391.83 350.76 L391.96 350.28 L392.09 349.79 L392.22 349.31 L392.36 348.83 L392.49 348.35 L392.62 347.86 L392.75 347.38 L392.88 346.90 L393.01 346.42 L393.14 345.93 L393.27 345.45 L393.40 344.97 L393.53 344.49 L393.66 344.00 L393.79 343.52 L393.92 343.04 L394.05 342.55 L394.18 342.07 L394.31 341.59 L394.44 341.11 L394.57 340.62 L394.70 340.14 L394.83 339.66 L394.96 339.18 L395.09 338.69 L395.22 338.21 L395.35 337.73 L395.48 337.24 L395.61 336.76 L395.74 336.28 L395.87 335.80 L396.00 335.31 L396.13 334.83 L396.26 334.35 L396.39 333.86 L396.52 333.38 L396.65 332.90 L396.78 332.42 L396.91 331.93 L397.04 331.45 L397.17 330.97 L397.30 330.48 L397.43 330.00 L397.56 329.52 L397.69 329.04 L397.82 328.55 L397.95 328.07 L398.08 327.59 L398.21 327.11 L398.34 326.62 L398.47 326.14 L398.60 325.66 L398.73 325.17 L398.87 324.69 L399.00 324.21 L399.13 323.73 L399.26 323.24 L399.39 322.76 L399.52 322.28 L399.65 321.79 L399.78 321.31 L399.91 320.83 L400.04 320.35 L400.17 319.86 L400.30 319.38 L400.43 318.90 L400.56 318.42 L400.69 317.93 L400.82 317.45 L400.95 316.97 L401.08 316.48 L401.21 316.00 L401.34 315.52 L401.47 315.04 L401.60 314.55 L401.73 314.07 L401.86 313.59 L401.99 313.11 L402.12 312.62 L402.25 312.14 L402.38 311.66 L402.51 311.18 L402.65 310.69 L402.78 310.21 L402.91 309.73 L403.04 309.25 L403.17 308.76 L403.30 308.28 L403.43 307.80 L403.56 307.32 L403.69 306.83 L403.82 306.35 L403.96 305.87 L404.09 305.39 L404.22 304.90 L404.35 304.42 L404.48 303.94 L404.61 303.46 L404.74 302.97 L404.88 302.49 L405.01 302.01 L405.14 301.53 L405.27 301.04 L405.40 300.56 L405.53 300.08 L405.67 299.60 L405.80 299.11 L405.93 298.63 L406.06 298.15 L406.19 297.67 L406.33 297.19 L406.46 296.70 L406.59 296.22 L406.72 295.74 L406.85 295.26 L406.99 294.77 L407.12 294.29 L407.25 293.81 L407.39 293.33 L407.52 292.85 L407.65 292.36 L407.78 291.88 L407.92 291.40 L408.05 290.92 L408.18 290.44 L408.32 289.95 L408.45 289.47 L408.58 288.99 L408.72 288.51 L408.85 288.03 L408.98 287.55 L409.12 287.06 L409.25 286.58 L409.39 286.10 L409.52 285.62 L409.65 285.14 L409.79 284.65 L409.92 284.17 L410.06 283.69 L410.19 283.21 L410.33 282.73 L410.46 282.25 L410.60 281.77 L410.73 281.28 L410.87 280.80 L411.00 280.32 L411.14 279.84 L411.27 279.36 L411.41 278.88 L411.54 278.40 L411.68 277.91 L411.81 277.43 L411.95 276.95 L412.09 276.47 L412.22 275.99 L412.36 275.51 L412.49 275.03 L412.63 274.55 L412.77 274.07 L412.90 273.59 L413.04 273.10 L413.18 272.62 L413.31 272.14 L413.45 271.66 L413.59 271.18 L413.73 270.70 L413.86 270.22 L414.00 269.74 L414.14 269.26 L414.28 268.78 L414.42 268.30 L414.55 267.82 L414.69 267.34 L414.83 266.86 L414.97 266.38 L415.11 265.90 L415.25 265.41 L415.39 264.93 L415.53 264.45 L415.67 263.97 L415.81 263.49 L415.95 263.01 L416.09 262.53 L416.23 262.05 L416.37 261.57 L416.51 261.09 L416.65 260.61 L416.79 260.13 L416.93 259.66 L417.07 259.18 L417.21 258.70 L417.35 258.22 L417.49 257.74 L417.64 257.26 L417.78 256.78 L417.92 256.30 L418.06 255.82 L418.21 255.34 L418.35 254.86 L418.49 254.38 L418.63 253.90 L418.78 253.42 L418.92 252.94 L419.07 252.47 L419.21 251.99 L419.35 251.51 L419.50 251.03 L419.64 250.55 L419.79 250.07 L419.93 249.59 L420.08 249.12 L420.22 248.64 L420.37 248.16 L420.51 247.68 L420.66 247.20 L420.81 246.72 L420.95 246.25 L421.10 245.77 L421.25 245.29 L421.39 244.81 L421.54 244.33 L421.69 243.86 L421.84 243.38 L421.99 242.90 L422.13 242.42 L422.28 241.95 L422.43 241.47 L422.58 240.99 L422.73 240.52 L422.88 240.04 L423.03 239.56 L423.18 239.08 L423.33 238.61 L423.48 238.13 L423.63 237.65 L423.78 237.18 L423.94 236.70 L424.09 236.22 L424.24 235.75 L424.39 235.27 L424.55 234.80 L424.70 234.32 L424.85 233.84 L425.00 233.37 L425.16 232.89 L425.31 232.42 L425.47 231.94 L425.62 231.47 L425.78 230.99 L425.93 230.51 L426.09 230.04 L426.24 229.56 L426.40 229.09 L426.55 228.61 L426.71 228.14 L426.87 227.66 L427.02 227.19 L427.18 226.72 L427.34 226.24 L427.50 225.77 L427.65 225.29 L427.81 224.82 L427.97 224.34 L428.13 223.87 L428.29 223.40 L428.45 222.92 L428.61 222.45 L428.77 221.97 L428.93 221.50 L429.09 221.03 L429.25 220.55 L429.41 220.08 L429.57 219.61 L429.74 219.13 L429.90 218.66 L430.06 218.19 L430.22 217.72 L430.39 217.24 L430.55 216.77 L430.71 216.30 L430.88 215.83 L431.04 215.35 L431.21 214.88 L431.37 214.41 L431.54 213.94 L431.70 213.47 L431.87 212.99 L432.03 212.52 L432.20 212.05 L432.37 211.58 L432.53 211.11 L432.70 210.64 L432.87 210.17 L433.04 209.69 L433.20 209.22 L433.37 208.75 L433.54 208.28 L433.71 207.81 L433.88 207.34 L434.05 206.87 L434.22 206.40 L434.39 205.93 L434.56 205.46 L434.73 204.99 L434.91 204.52 L435.08 204.05 L435.25 203.58 L435.42 203.11 L435.60 202.64 L435.77 202.18 L435.94 201.71 L436.12 201.24 L436.29 200.77 L436.46 200.30 L436.64 199.83 L436.81 199.36 L436.99 198.90 L437.17 198.43 L437.34 197.96 L437.52 197.49 L437.70 197.02 L437.87 196.56 L438.05 196.09 L438.23 195.62 L438.41 195.16 L438.59 194.69 L438.77 194.22 L438.94 193.75 L439.12 193.29 L439.30 192.82 L439.49 192.36 L439.67 191.89 L439.85 191.42 L440.03 190.96 L440.21 190.49 L440.39 190.03 L440.58 189.56 L440.76 189.10 L440.94 188.63 L441.13 188.17 L441.31 187.70 L441.49 187.24 L441.68 186.77 L441.87 186.31 L442.05 185.84 L442.24 185.38 L442.42 184.91 L442.61 184.45 L442.80 183.99 L442.98 183.52 L443.17 183.06 L443.36 182.60 L443.55 182.13 L443.74 181.67 L443.93 181.21 L444.12 180.75 L444.31 180.28 L444.50 179.82 L444.69 179.36 L444.88 178.90 L445.07 178.44 L445.27 177.97 L445.46 177.51 L445.65 177.05 L445.85 176.59 L446.04 176.13 L446.23 175.67 L446.43 175.21 L446.62 174.75 L446.82 174.29 L447.01 173.83 L447.21 173.37 L447.41 172.91 L447.60 172.45 L447.80 171.99 L448.00 171.53 L448.20 171.07 L448.40 170.61 L448.60 170.15 L448.80 169.70 L449.00 169.24 L449.20 168.78 L449.40 168.32 L449.60 167.86 L449.80 167.41 L450.00 166.95 L450.21 166.49 L450.41 166.03 L450.61 165.58 L450.82 165.12 L451.02 164.67 L451.22 164.21 L451.43 163.75 L451.64 163.30 L451.84 162.84 L452.05 162.39 L452.25 161.93 L452.46 161.48 L452.67 161.02 L452.88 160.57 L453.09 160.11 L453.30 159.66 L453.51 159.20 L453.72 158.75 L453.93 158.30 L454.14 157.84 L454.35 157.39 L454.56 156.94 L454.77 156.49 L454.99 156.03 L455.20 155.58 L455.41 155.13 L455.63 154.68 L455.84 154.23 L456.06 153.77 L456.27 153.32 L456.49 152.87 L456.71 152.42 L456.92 151.97 L457.14 151.52 L457.36 151.07 L457.58 150.62 L457.80 150.17 L458.02 149.72 L458.24 149.27 L458.46 148.82 L458.68 148.38 L458.90 147.93 L459.12 147.48 L459.34 147.03 L459.57 146.58 L459.79 146.14 L460.01 145.69 L460.24 145.24 L460.46 144.80 L460.69 144.35 L460.91 143.90 L461.14 143.46 L461.37 143.01 L461.59 142.57 L461.82 142.12 L462.05 141.68 L462.28 141.23 L462.51 140.79 L462.74 140.35 L462.97 139.90 L463.20 139.46 L463.43 139.02 L463.66 138.57 L463.90 138.13 L464.13 137.69 L464.36 137.25 L464.60 136.80 L464.83 136.36 L465.07 135.92 L465.30 135.48 L465.54 135.04 L465.78 134.60 L466.01 134.16 L466.25 133.72 L466.49 133.28 L466.73 132.84 L466.97 132.40 L467.21 131.96 L467.45 131.52 L467.69 131.09 L467.93 130.65 L468.18 130.21 L468.42 129.77 L468.66 129.34 L468.91 128.90 L469.15 128.47 L469.39 128.03 L469.64 127.59 L469.89 127.16 L470.13 126.72 L470.38 126.29 L470.63 125.85 L470.88 125.42 L471.13 124.99 L471.37 124.55 L471.63 124.12 L471.88 123.69 L472.13 123.26 L472.38 122.82 L472.63 122.39 L472.88 121.96 L473.14 121.53 L473.39 121.10 L473.65 120.67 L473.90 120.24 L474.16 119.81 L474.41 119.38 L474.67 118.95 L474.93 118.52 L475.19 118.09 L475.44 117.67 L475.70 117.24 L475.96 116.81 L476.22 116.39 L476.49 115.96 L476.75 115.53 L477.01 115.11 L477.27 114.68 L477.54 114.26 L477.80 113.83 L478.06 113.41 L478.33 112.98 L478.59 112.56 L478.86 112.14 L479.13 111.71 L479.40 111.29 L479.66 110.87 L479.93 110.45 L480.20 110.03 L480.47 109.61 L480.74 109.19 L481.01 108.77 L481.28 108.35 L481.56 107.93 L481.83 107.51 L482.10 107.09 L482.38 106.67 L482.65 106.25 L482.93 105.83 L483.20 105.42 L483.48 105.00 L483.76 104.58 L484.03 104.17 L484.31 103.75 L484.59 103.34 L484.87 102.92 L485.15 102.51 L485.43 102.10 L485.71 101.68 L485.99 101.27 L486.28 100.86 L486.56 100.44 L486.84 100.03 L487.13 99.62 L487.41 99.21 L487.70 98.80 L487.98 98.39 L488.27 97.98 L488.56 97.57 L488.84 97.16 L489.13 96.75 L489.42 96.34 L489.71 95.94 L490.00 95.53 L490.29 95.12 L490.58 94.72 L490.87 94.31 L491.17 93.90 L491.46 93.50 L491.75 93.09 L492.05 92.69 L492.34 92.29 L492.64 91.88 L492.93 91.48 L493.23 91.08 L493.53 90.67 L493.82 90.27 L494.12 89.87 L494.42 89.47 L494.72 89.07 L495.02 88.67 L495.32 88.27 L495.62 87.87 L495.92 87.47 L496.22 87.07 L496.53 86.67 L496.83 86.28 L497.13 85.88 L497.44 85.48 L497.74 85.09 L498.05 84.69 L498.35 84.30 L498.66 83.90 L498.97 83.51 L499.27 83.11 L499.58 82.72 L499.89 82.32 L500.20 81.93 L500.51 81.54 L500.82 81.15 L501.13 80.75 L501.44 80.36 L501.75 79.97 L502.06 79.58 L502.38 79.19 L502.69 78.80 L503.00 78.41 L503.32 78.02 L503.64 77.64 L503.95 77.25 L504.27 76.86 L504.59 76.48 L504.90 76.09 L505.22 75.71 L505.54 75.32 L505.87 74.94 L506.19 74.56 L506.51 74.17 L506.83 73.79 L507.16 73.41 L507.49 73.03 L507.81 72.66 L508.14 72.28 L508.47 71.90 L508.80 71.53 L509.13 71.15 L509.46 70.78 L509.80 70.41 L510.13 70.04 L510.47 69.67 L510.81 69.30 L511.15 68.93 L511.49 68.57 L511.83 68.20 L512.17 67.84 L512.52 67.48 L512.87 67.12 L513.21 66.76 L513.56 66.40 L513.92 66.04 L514.27 65.69 L514.63 65.34 L514.98 64.99 L515.34 64.64 L515.70 64.30 L516.07 63.95 L516.43 63.61 L516.80 63.27 L517.17 62.93 L517.54 62.60 L517.91 62.27 L518.29 61.94 L518.67 61.61 L519.05 61.29 L519.43 60.97 L519.82 60.65 L520.21 60.33 L520.60 60.02 L520.99 59.72 L521.39 59.41 L521.79 59.11 L522.19 58.82 L522.60 58.52 L523.01 58.24 L523.42 57.95 L523.84 57.68 L524.25 57.40 L524.68 57.14 L525.10 56.87 L525.53 56.62 L525.96 56.37 L526.40 56.12 L526.84 55.88 L527.28 55.65 L527.73 55.43 L528.18 55.21 L528.64 55.00 L529.09 54.80 L529.56 54.61 L530.02 54.43 L530.49 54.26 L530.96 54.09 L531.44 53.94 L531.92 53.80 L532.40 53.66 L532.89 53.54 L533.37 53.44 L533.86 53.34 L534.36 53.26 L534.85 53.19 L535.35 53.13 L535.85 53.09 L536.35 53.06 L536.85 53.04 L537.35 53.04 L537.85 53.05 L538.34 53.08 L538.84 53.12 L539.34 53.17 L539.84 53.24 L540.33 53.32 L540.82 53.41 L541.31 53.51 L541.80 53.63 L542.28 53.76 L542.76 53.89 L543.24 54.04 L543.71 54.20 L544.18 54.37 L544.65 54.55 L545.11 54.74 L545.57 54.93 L546.03 55.14 L546.48 55.35 L546.93 55.57 L547.37 55.80 L547.81 56.04 L548.25 56.28 L548.69 56.53 L549.11 56.79 L549.54 57.05 L549.96 57.32 L550.38 57.59 L550.80 57.87 L551.21 58.15 L551.61 58.44 L552.02 58.74 L552.42 59.04 L552.82 59.34 L553.21 59.65 L553.60 59.96 L553.99 60.27 L554.38 60.59 L554.76 60.91 L555.14 61.24 L555.52 61.57 L555.89 61.90 L556.26 62.24 L556.63 62.58 L556.99 62.92 L557.36 63.26 L557.72 63.61 L558.07 63.96 L558.43 64.31 L558.78 64.66 L559.13 65.02 L559.48 65.38 L559.83 65.74 L560.17 66.10 L560.51 66.47 L560.85 66.83 L561.19 67.20 L561.52 67.57 L561.86 67.95 L562.19 68.32 L562.52 68.70 L562.85 69.07 L563.17 69.45 L563.50 69.83 L563.82 70.22 L564.14 70.60 L564.46 70.98 L564.78 71.37 L565.09 71.76 L565.41 72.15 L565.72 72.54 L566.03 72.93 L566.34 73.32 L566.65 73.72 L566.95 74.11 L567.26 74.51 L567.56 74.90 L567.87 75.30 L568.17 75.70 L568.47 76.10 L568.77 76.50 L569.06 76.90 L569.36 77.31 L569.65 77.71 L569.95 78.12 L570.24 78.52 L570.53 78.93 L570.82 79.34 L571.11 79.74 L571.40 80.15 L571.68 80.56 L571.97 80.97 L572.26 81.38 L572.54 81.79 L572.82 82.21 L573.10 82.62 L573.38 83.03 L573.66 83.45 L573.94 83.86 L574.22 84.28 L574.50 84.69 L574.77 85.11 L575.05 85.53 L575.32 85.95 L575.60 86.37 L575.87 86.78 L576.14 87.20 L576.41 87.62 L576.68 88.04 L576.95 88.47 L577.22 88.89 L577.49 89.31 L577.76 89.73 L578.03 90.15 L578.29 90.58 L578.56 91.00 L578.82 91.43 L579.08 91.85 L579.35 92.28 L579.61 92.70 L579.87 93.13 L580.13 93.55 L580.39 93.98 L580.65 94.41 L580.91 94.83 L581.17 95.26 L581.43 95.69 L581.69 96.12 L581.95 96.55 L582.20 96.98 L582.46 97.41 L582.71 97.84 L582.97 98.27 L583.22 98.70 L583.48 99.13 L583.73 99.56 L583.98 99.99 L584.24 100.42 L584.49 100.85 L584.74 101.29 L584.99 101.72 L585.24 102.15 L585.49 102.58 L585.74 103.02 L585.99 103.45 L586.24 103.88 L586.49 104.32 L586.74 104.75 L586.98 105.19 L587.23 105.62 L587.48 106.06 L587.72 106.49 L587.97 106.93 L588.22 107.36 L588.46 107.80 L588.71 108.23 L588.95 108.67 L589.20 109.10 L589.44 109.54 L589.68 109.98 L589.93 110.41 L590.17 110.85 L590.41 111.29 L590.66 111.73 L590.90 112.16 L591.14 112.60 L591.38 113.04 L591.62 113.48 L591.86 113.91 L592.10 114.35 L592.34 114.79 L592.59 115.23 L592.83 115.67 L593.06 116.11 L593.30 116.55 L593.54 116.98 L593.78 117.42 L594.02 117.86 L594.26 118.30 L594.50 118.74 L594.74 119.18 L594.97 119.62 L595.21 120.06 L595.45 120.50 L595.69 120.94 L595.92 121.38 L596.16 121.82 L596.40 122.26 L596.63 122.70 L596.87 123.14 L597.11 123.58 L597.34 124.02 L597.58 124.47 L597.82 124.91 L598.05 125.35 L598.29 125.79 L598.52 126.23 L598.76 126.67 L598.99 127.11 L599.23 127.55 L599.46 127.99 L599.70 128.44 L599.93 128.88 L600.17 129.32 L600.40 129.76 L600.64 130.20 L600.87 130.64 L601.10 131.09 L601.34 131.53 L601.57 131.97 L601.81 132.41 L602.04 132.85 L602.27 133.30 L602.51 133.74 L602.74 134.18 L602.98 134.62 L603.21 135.06 L603.44 135.50 L603.68 135.95 L603.91 136.39 L604.14 136.83 L604.38 137.27 L604.61 137.72 L604.84 138.16 L605.08 138.60 L605.31 139.04 L605.55 139.48 L605.78 139.93 L606.01 140.37 L606.25 140.81 L606.48 141.25 L606.71 141.69 L606.95 142.14 L607.18 142.58 L607.41 143.02 L607.65 143.46 L607.88 143.90 L608.11 144.35 L608.35 144.79 L608.58 145.23 L608.82 145.67 L609.05 146.11 L609.28 146.56 L609.52 147.00 L609.75 147.44 L609.99 147.88 L610.22 148.32 L610.46 148.76 L610.69 149.21 L610.92 149.65 L611.16 150.09 L611.39 150.53 L611.63 150.97 L611.86 151.41 L612.10 151.85 L612.34 152.30 L612.57 152.74 L612.81 153.18 L613.04 153.62 L613.28 154.06 L613.51 154.50 L613.75 154.94 L613.99 155.38 L614.22 155.82 L614.46 156.26 L614.70 156.70 L614.93 157.14 L615.17 157.58 L615.41 158.02 L615.65 158.46 L615.88 158.90 L616.12 159.34 L616.36 159.78 L616.60 160.22 L616.83 160.66 L617.07 161.10 L617.31 161.54 L617.55 161.98 L617.79 162.42 L618.03 162.86 L618.27 163.30 L618.51 163.74 L618.75 164.18 L618.99 164.62 L619.22 165.05 L619.46 165.49 L619.70 165.93 L619.94 166.37 L620.19 166.81 L620.43 167.25 L620.67 167.69 L620.91 168.12 L621.15 168.56 L621.39 169.00 L621.63 169.44 L621.87 169.88 L622.11 170.31 L622.35 170.75 L622.60 171.19 L622.84 171.63 L623.08 172.06 L623.32 172.50 L623.56 172.94 L623.81 173.38 L624.05 173.81 L624.29 174.25 L624.54 174.69 L624.78 175.12 L625.02 175.56 L625.26 176.00 L625.51 176.44 L625.75 176.87 L625.99 177.31 L626.24 177.75 L626.48 178.18 L626.73 178.62 L626.97 179.05 L627.22 179.49 L627.46 179.93 L627.70 180.36 L627.95 180.80 L628.19 181.23 L628.44 181.67 L628.68 182.11 L628.93 182.54 L629.17 182.98 L629.42 183.41 L629.67 183.85 L629.91 184.28 L630.16 184.72 L630.40 185.16 L630.65 185.59 L630.89 186.03 L631.14 186.46 L631.39 186.90 L631.63 187.33 L631.88 187.77 L632.13 188.20 L632.37 188.64 L632.62 189.07 L632.87 189.51 L633.12 189.94 L633.36 190.37 L633.61 190.81 L633.86 191.24 L634.11 191.68 L634.35 192.11 L634.60 192.55 L634.85 192.98 L635.10 193.41 L635.35 193.85 L635.59 194.28 L635.84 194.72 L636.09 195.15 L636.34 195.58 L636.59 196.02 L636.84 196.45 L637.09 196.88 L637.33 197.32 L637.58 197.75 L637.83 198.19 L638.08 198.62 L638.33 199.05 L638.58 199.49 L638.83 199.92 L639.08 200.35 L639.33 200.78 L639.58 201.22 L639.83 201.65 L640.08 202.08 L640.33 202.52 L640.58 202.95 L640.83 203.38 L641.08 203.82 L641.33 204.25 L641.58 204.68 L641.83 205.11 L642.08 205.55 L642.34 205.98 L642.59 206.41 L642.84 206.84 L643.09 207.28 L643.34 207.71 L643.59 208.14 L643.84 208.57 L644.09 209.00 L644.35 209.44 L644.60 209.87 L644.85 210.30 L645.10 210.73 L645.35 211.16 L645.60 211.60 L645.86 212.03 L646.11 212.46 L646.36 212.89 L646.61 213.32 L646.87 213.76 L647.12 214.19 L647.37 214.62 L647.62 215.05 L647.88 215.48 L648.13 215.91 L648.38 216.34 L648.63 216.78 L648.89 217.21 L649.14 217.64 L649.39 218.07 L649.65 218.50 L649.90 218.93 L650.15 219.36 L650.40 219.79 L650.66 220.23 L650.91 220.66 L651.16 221.09 L651.42 221.52 L651.67 221.95 L651.92 222.38 L652.18 222.81 L652.43 223.24 L652.69 223.67 L652.94 224.10 L653.19 224.54 L653.45 224.97 L653.70 225.40 L653.95 225.83 L654.21 226.26 L654.46 226.69 L654.72 227.12 L654.97 227.55 L655.22 227.98 L655.48 228.41 L655.73 228.84 L655.99 229.27 L656.24 229.70 L656.50 230.13 L656.75 230.56 L657.00 230.99 L657.26 231.43 L657.51 231.86 L657.77 232.29 L658.02 232.72 L658.28 233.15 L658.53 233.58 L658.79 234.01 L659.04 234.44 L659.30 234.87 L659.55 235.30 L659.80 235.73 L660.06 236.16 L660.31 236.59 L660.57 237.02 L660.82 237.45 L661.08 237.88 L661.33 238.31 L661.59 238.74 L661.84 239.17 L662.10 239.60 L662.35 240.03 L662.61 240.46 L662.86 240.89 L663.12 241.32 L663.37 241.75 L663.63 242.18 L663.88 242.61 L664.14 243.04 L664.39 243.47 L664.65 243.90 L664.90 244.33 L665.16 244.76 L665.41 245.19 L665.67 245.62 L665.92 246.05 L666.18 246.48 L666.43 246.91 L666.69 247.34 L666.94 247.77 L667.20 248.20 L667.45 248.63 L667.71 249.06 L667.96 249.49 L668.22 249.92 L668.47 250.35 L668.73 250.78 L668.98 251.21 L669.24 251.64 L669.49 252.07 L669.75 252.50 L670.00 252.93 L670.26 253.36 L670.51 253.79 L670.77 254.22 L671.02 254.66 L671.27 255.09 L671.53 255.52 L671.78 255.95 L672.04 256.38 L672.29 256.81 L672.55 257.24 L672.80 257.67 L673.06 258.10 L673.31 258.53 L673.57 258.96 L673.82 259.39 L674.08 259.82 L674.33 260.25 L674.59 260.68 L674.84 261.11 L675.10 261.54 L675.35 261.97 L675.61 262.40 L675.86 262.83 L676.12 263.26 L676.37 263.69 L676.63 264.12 L676.88 264.55 L677.14 264.98 L677.39 265.41 L677.65 265.84 L677.90 266.27 L678.16 266.70 L678.41 267.13 L678.67 267.56 L678.92 267.99 L679.18 268.42 L679.43 268.85 L679.69 269.28 L679.94 269.71 L680.20 270.14 L680.45 270.57 L680.71 271.00 L680.97 271.43 L681.22 271.86 L681.48 272.29 L681.73 272.72 L681.99 273.15 L682.25 273.58 L682.50 274.01 L682.76 274.43 L683.01 274.86 L683.27 275.29 L683.53 275.72 L683.78 276.15 L684.04 276.58 L684.29 277.01 L684.55 277.44 L684.81 277.87 L685.06 278.30 L685.32 278.73 L685.58 279.16 L685.83 279.59 L686.09 280.01 L686.35 280.44 L686.61 280.87 L686.86 281.30 L687.12 281.73 L687.38 282.16 L687.63 282.59 L687.89 283.02 L688.15 283.44 L688.41 283.87 L688.67 284.30 L688.92 284.73 L689.18 285.16 L689.44 285.59 L689.70 286.01 L689.96 286.44 L690.21 286.87 L690.47 287.30 L690.73 287.73 L690.99 288.15 L691.25 288.58 L691.51 289.01 L691.77 289.44 L692.03 289.86 L692.29 290.29 L692.55 290.72 L692.81 291.15 L693.07 291.57 L693.33 292.00 L693.59 292.43 L693.85 292.85 L694.11 293.28 L694.37 293.71 L694.63 294.13 L694.89 294.56 L695.15 294.99 L695.41 295.41 L695.67 295.84 L695.93 296.27 L696.19 296.69 L696.46 297.12 L696.72 297.55 L696.98 297.97 L697.24 298.40 L697.50 298.82 L697.77 299.25 L698.03 299.67 L698.29 300.10 L698.55 300.52 L698.82 300.95 L699.08 301.37 L699.34 301.80 L699.61 302.22 L699.87 302.65 L700.14 303.07 L700.40 303.50 L700.66 303.92 L700.93 304.35 L701.19 304.77 L701.46 305.20 L701.72 305.62 L701.99 306.04 L702.25 306.47 L702.52 306.89 L702.79 307.31 L703.05 307.74 L703.32 308.16 L703.58 308.58 L703.85 309.01 L704.12 309.43 L704.39 309.85 L704.65 310.27 L704.92 310.70 L705.19 311.12 L705.46 311.54 L705.72 311.96 L705.99 312.38 L706.26 312.81 L706.53 313.23 L706.80 313.65 L707.07 314.07 L707.34 314.49 L707.61 314.91 L707.88 315.33 L708.15 315.75 L708.42 316.17 L708.69 316.59 L708.96 317.01 L709.23 317.43 L709.51 317.85 L709.78 318.27 L710.05 318.69 L710.32 319.11 L710.60 319.53 L710.87 319.95 L711.14 320.37 L711.42 320.79 L711.69 321.21 L711.96 321.62 L712.24 322.04 L712.51 322.46 L712.79 322.88 L713.06 323.29 L713.34 323.71 L713.61 324.13 L713.89 324.55 L714.17 324.96 L714.44 325.38 L714.72 325.79 L715.00 326.21 L715.28 326.63 L715.55 327.04 L715.83 327.46 L716.11 327.87 L716.39 328.29 L716.67 328.70 L716.95 329.12 L717.23 329.53 L717.51 329.94 L717.79 330.36 L718.07 330.77 L718.35 331.18 L718.64 331.60 L718.92 332.01 L719.20 332.42 L719.48 332.83 L719.77 333.25 L720.05 333.66 L720.33 334.07 L720.62 334.48 L720.90 334.89 L721.19 335.30 L721.47 335.71 L721.76 336.12 L722.05 336.53 L722.33 336.94 L722.62 337.35 L722.91 337.76 L723.19 338.17 L723.48 338.58 L723.77 338.99 L724.06 339.40 L724.35 339.81 L724.64 340.21 L724.93 340.62 L725.22 341.03 L725.51 341.44 L725.80 341.84 L726.09 342.25 L726.38 342.65 L726.67 343.06 L726.96 343.47 L727.26 343.87 L727.55 344.28 L727.84 344.68 L728.14 345.09 L728.43 345.49 L728.72 345.90 L729.02 346.30 L729.31 346.70 L729.61 347.11 L729.91 347.51 L730.20 347.91 L730.50 348.31 L730.80 348.72 L731.09 349.12 L731.39 349.52 L731.69 349.92 L731.99 350.32 L732.29 350.72 L732.59 351.12 L732.89 351.52 L733.19 351.92 L733.49 352.32 L733.79 352.72 L734.09 353.12 L734.39 353.52 L734.69 353.92 L734.99 354.32 L735.30 354.72 L735.60 355.11 L735.90 355.51 L736.21 355.91 L736.51 356.31 L736.82 356.70 L737.12 357.10 L737.43 357.49 L737.73 357.89 L738.04 358.29 L738.34 358.68 L738.65 359.07 L738.96 359.47 L739.27 359.86 L739.57 360.26 L739.88 360.65 L740.19 361.04 L740.50 361.44 L740.81 361.83 L741.12 362.22 L741.43 362.61 L741.74 363.01 L742.05 363.40 L742.36 363.79 L742.68 364.18 L742.99 364.57 L743.30 364.96 L743.61 365.35 L743.93 365.74 L744.24 366.13 L744.55 366.52 L744.87 366.91 L745.18 367.29 L745.50 367.68 L745.82 368.07 L746.13 368.46 L746.45 368.84 L746.77 369.23 L747.08 369.62 L747.40 370.00 L747.72 370.39 L748.04 370.77 L748.36 371.16 L748.68 371.54 L749.00 371.93 L749.32 372.31 L749.64 372.70 L749.96 373.08 L750.28 373.46 L750.60 373.85 L750.92 374.23 L751.25 374.61 L751.57 374.99 L751.89 375.37 L752.22 375.75 L752.54 376.13 L752.86 376.51 L753.19 376.89 L753.51 377.27 L753.84 377.65 L754.17 378.03 L754.49 378.41 L754.82 378.79 L755.15 379.17 L755.48 379.54 L755.80 379.92 L756.13 380.30 L756.46 380.68 L756.79 381.05 L757.12 381.43 L757.45 381.80 L757.78 382.18 L758.11 382.55 L758.44 382.93 L758.78 383.30 L759.11 383.67 L759.44 384.05 L759.77 384.42 L760.11 384.79 L760.44 385.17 L760.78 385.54 L761.11 385.91 L761.44 386.28 L761.78 386.65 L762.12 387.02 L762.45 387.39 L762.79 387.76 L763.13 388.13 L763.46 388.50 L763.80 388.87 L764.14 389.24 L764.48 389.60 L764.82 389.97 L765.16 390.34 L765.50 390.70 L765.84 391.07 L766.18 391.44 L766.52 391.80 L766.86 392.17 L767.20 392.53 L767.55 392.90 L767.89 393.26 L768.23 393.62 L768.58 393.99 L768.92 394.35 L769.26 394.71 L769.61 395.07 L769.95 395.44 L770.30 395.80 L770.65 396.16 L770.99 396.52 L771.34 396.88 L771.69 397.24 L772.03 397.60 L772.38 397.96 L772.73 398.31 L773.08 398.67 L773.43 399.03 L773.78 399.39 L774.13 399.74 L774.48 400.10 L774.83 400.46 L775.18 400.81 L775.53 401.17 L775.89 401.52 L776.24 401.88 L776.59 402.23 L776.95 402.59 L777.30 402.94 L777.65 403.29 L778.01 403.64 L778.36 404.00 L778.72 404.35 L779.07 404.70 L779.43 405.05 L779.79 405.40 L780.14 405.75 L780.50 406.10 L780.86 406.45 L781.22 406.80 L781.58 407.15 L781.94 407.49 L782.29 407.84 L782.65 408.19 L783.01 408.54 L783.38 408.88 L783.74 409.23 L784.10 409.57 L784.46 409.92 L784.82 410.26 L785.18 410.61 L785.55 410.95 L785.91 411.29 L786.28 411.64 L786.64 411.98 L787.00 412.32 L787.37 412.66 L787.73 413.01 L788.10 413.35 L788.47 413.69 L788.83 414.03 L789.20 414.37 L789.57 414.71 L789.94 415.04 L790.30 415.38 L790.67 415.72 L791.04 416.06 L791.41 416.39 L791.78 416.73 L792.15 417.07 L792.52 417.40 L792.89 417.74 L793.26 418.07 L793.64 418.41 L794.01 418.74 L794.38 419.07 L794.75 419.41 L795.13 419.74 L795.50 420.07 L795.87 420.40 L796.25 420.74 L796.62 421.07 L797.00 421.40 L797.37 421.73 L797.75 422.06 L798.13 422.39 L798.50 422.72 L798.88 423.04 L799.26 423.37 L799.63 423.70 L800.01 424.03 L800.39 424.35 L800.77 424.68 L801.15 425.00 L801.53 425.33 L801.91 425.65 L802.29 425.98 L802.67 426.30 L803.05 426.63 L803.43 426.95 L803.82 427.27 L804.20 427.60 L804.58 427.92 L804.96 428.24 L805.35 428.56 L805.73 428.88 L806.11 429.20 L806.50 429.52 L806.88 429.84 L807.27 430.16 L807.65 430.48 L808.04 430.79 L808.43 431.11 L808.81 431.43 L809.20 431.74 L809.59 432.06 L809.98 432.38 L810.36 432.69 L810.75 433.01 L811.14 433.32 L811.53 433.63 L811.92 433.95 L812.31 434.26 L812.70 434.57 L813.09 434.89 L813.48 435.20 L813.87 435.51 L814.26 435.82 L814.66 436.13 L815.05 436.44 L815.44 436.75 L815.83 437.06 L816.23 437.37 L816.62 437.68 L817.01 437.99 L817.41 438.29 L817.80 438.60 L818.20 438.91 L818.59 439.21 L818.99 439.52 L819.39 439.82 L819.78 440.13 L820.18 440.43 L820.57 440.74 L820.97 441.04 L821.37 441.34 L821.77 441.65 L822.17 441.95 L822.56 442.25 L822.96 442.55 L823.36 442.85 L823.76 443.15 L824.16 443.45 L824.56 443.75 L824.96 444.05 L825.36 444.35 L825.76 444.65 L826.16 444.95 L826.57 445.25 L826.97 445.55 L827.37 445.84 L827.77 446.14 L828.18 446.43 L828.58 446.73 L828.98 447.03 L829.39 447.32 L829.79 447.62 L830.20 447.91 L830.60 448.20 L831.00 448.50 L831.41 448.79 L831.82 449.08 L832.22 449.37 L832.63 449.67 L833.03 449.96 L833.44 450.25 L833.85 450.54 L834.26 450.83 L834.66 451.12 L835.07 451.41 L835.48 451.70 L835.89 451.98 L836.30 452.27 L836.71 452.56 L837.11 452.85 L837.52 453.13 L837.93 453.42 L838.34 453.70 L838.75 453.99 L839.17 454.28 L839.58 454.56 L839.99 454.84 L840.40 455.13 L840.81 455.41 L841.22 455.69 L841.64 455.98 L842.05 456.26 L842.46 456.54 L842.88 456.82 L843.29 457.10 L843.70 457.38 L844.12 457.66 L844.53 457.94 L844.95 458.22 L845.36 458.50 L845.78 458.78 L846.19 459.06 L846.61 459.33 L847.03 459.61 L847.44 459.89 L847.86 460.16 L848.28 460.44 L848.69 460.72 L849.11 460.99 L849.53 461.27 L849.95 461.54 L850.36 461.81 L850.78 462.09 L851.20 462.36 L851.62 462.63 L852.04 462.90 L852.46 463.18 L852.88 463.45 L853.30 463.72 L853.72 463.99 L854.14 464.26 L854.56 464.53 L854.98 464.80 L855.41 465.07 L855.83 465.34 L856.25 465.60 L856.67 465.87 L857.09 466.14 L857.52 466.41 L857.94 466.67 L858.36 466.94 L858.79 467.20 L859.21 467.47 L859.64 467.73 L860.06 468.00 L860.48 468.26 L860.91 468.53 L861.33 468.79 L861.76 469.05 L862.19 469.31 L862.61 469.58 L863.04 469.84 L863.46 470.10 L863.89 470.36 L864.32 470.62 L864.75 470.88 L865.17 471.14 L865.60 471.40 L866.03 471.66 L866.46 471.91 L866.88 472.17 L867.31 472.43 L867.74 472.69 L868.17 472.94 L868.60 473.20 L869.03 473.46 L869.46 473.71 L869.89 473.97 L870.32 474.22 L870.75 474.47 L871.18 474.73 L871.61 474.98 L872.04 475.23 L872.48 475.49 L872.91 475.74 L873.34 475.99 L873.77 476.24 L874.20 476.49 L874.64 476.74 L875.07 477.00 L875.50 477.25 L875.94 477.49 L876.37 477.74 L876.80 477.99 L877.24 478.24 L877.67 478.49 L878.11 478.74 L878.54 478.98 L878.97 479.23 L879.41 479.48 L879.84 479.72 L880.28 479.97 L880.72 480.21 L881.15 480.46 L881.59 480.70 L882.02 480.95 L882.46 481.19 L882.90 481.43 L883.33 481.68 L883.77 481.92 L884.21 482.16 L884.65 482.40 L885.09 482.64 L885.52 482.89 L885.96 483.13 L886.40 483.37 L886.84 483.61 L887.28 483.85 L887.72 484.09 L888.16 484.32 L888.60 484.56 L889.04 484.80 L889.47 485.04 L889.92 485.28 L890.36 485.51 L890.80 485.75 L891.24 485.99 L891.68 486.22 L892.12 486.46 L892.56 486.69 L893.00 486.93 L893.44 487.16 L893.88 487.40 L894.33 487.63 L894.77 487.86 L895.21 488.10 L895.65 488.33 L896.10 488.56 L896.54 488.79 L896.98 489.02 L897.43 489.25 L897.87 489.49 L898.31 489.72 L898.76 489.95 L899.20 490.18 L899.65 490.41 L900.09 490.63 L900.53 490.86 L900.98 491.09 L901.42 491.32 L901.87 491.55 L902.31 491.77 L902.76 492.00 L903.21 492.23 L903.65 492.46 L904.10 492.68 L904.54 492.91 L904.99 493.13 L905.44 493.36 L905.88 493.58 L906.33 493.81 L906.78 494.03 L907.22 494.25 L907.67 494.48 L908.12 494.70 L908.57 494.92 L909.01 495.15 L909.46 495.37 L909.91 495.59 L910.36 495.81 L910.81 496.03 L911.26 496.25 L911.70 496.47 L912.15 496.69 L912.60 496.91 L913.05 497.13 L913.50 497.35 L913.95 497.57 L914.40 497.79 L914.85 498.01 L915.30 498.23 L915.75 498.44 L916.20 498.66 L916.65 498.88 L917.10 499.09 L917.55 499.31 L918.00 499.53 L918.45 499.74 L918.91 499.96 L919.36 500.17 L919.81 500.39 L920.26 500.60 L920.71 500.82 L921.16 501.03 L921.62 501.25 L922.07 501.46 L922.52 501.67 L922.97 501.89 L923.42 502.10 L923.88 502.31 L924.33 502.52 L924.78 502.74 L925.24 502.95 L925.69 503.16 L926.14 503.37 L926.60 503.58 L927.05 503.79 L927.50 504.00 L927.96 504.21 L928.41 504.42 L928.86 504.63 L929.32 504.84 L929.77 505.05 L930.23 505.26 L930.68 505.47 L931.14 505.67 L931.59 505.88 L932.05 506.09 L932.50 506.30 L932.96 506.50 L933.41 506.71 L933.87 506.92 L934.32 507.12 L934.78 507.33 L935.00 507.43" stroke-width="5.5" stroke-dasharray="58.93 2.80 5.00 2.80 60.87 2.80 5.00 2.80 79.98 2.80 5.00 2.80 65.06 2.80 5.00 2.80 66.51 2.80 5.00 2.80 79.87 2.80 5.00 2.80 60.82 2.80 5.00 2.80 58.16 2.80 5.00 2.80 61.23 2.80 5.00 2.80 85.78 2.80 5.00 2.80 62.28 2.80 5.00 2.80 74.58 2.80 5.00 2.80 77.37 2.80 5.00 2.80 54.73 2.80 5.00 2.80 72.75 2.80 5.00 2.80 52.81 0.00"/>
<path d="M338.50 485.01 L338.88 485.33 L339.26 485.66 L339.63 486.00 L339.99 486.35 L340.34 486.70 L340.69 487.06 L341.03 487.42 L341.37 487.79 L341.70 488.17 L342.02 488.55 L342.34 488.93 L342.66 489.32 L342.97 489.71 L343.28 490.11 L343.58 490.50 L343.88 490.90 L344.18 491.31 L344.47 491.71 L344.76 492.12 L345.05 492.53 L345.33 492.94 L345.62 493.35 L345.90 493.77 L346.17 494.18 L346.45 494.60 L346.72 495.02 L346.99 495.44 L347.26 495.86 L347.52 496.29 L347.79 496.71 L348.05 497.14 L348.31 497.56 L348.57 497.99 L348.83 498.42 L349.09 498.85 L349.35 499.27 L349.60 499.71 L349.85 500.14 L350.11 500.57 L350.36 501.00 L350.61 501.43 L350.86 501.87 L351.11 502.30 L351.35 502.73 L351.60 503.17 L351.85 503.60 L352.09 504.04 L352.34 504.47 L352.58 504.91 L352.83 505.35 L353.07 505.78 L353.31 506.22 L353.56 506.66 L353.80 507.10 L354.04 507.53 L354.28 507.97 L354.53 508.41 L354.77 508.85 L355.01 509.28 L355.25 509.72 L355.49 510.16 L355.73 510.60 L355.97 511.03 L356.22 511.47 L356.46 511.91 L356.70 512.35 L356.94 512.78 L357.19 513.22 L357.43 513.66 L357.67 514.10 L357.92 514.53 L358.16 514.97 L358.40 515.40 L358.65 515.84 L358.90 516.28 L359.14 516.71 L359.39 517.14 L359.64 517.58 L359.89 518.01 L360.14 518.45 L360.39 518.88 L360.64 519.31 L360.89 519.74 L361.14 520.17 L361.40 520.60 L361.65 521.03 L361.91 521.46 L362.17 521.89 L362.43 522.32 L362.69 522.74 L362.96 523.17 L363.22 523.59 L363.49 524.02 L363.75 524.44 L364.02 524.86 L364.30 525.28 L364.57 525.70 L364.85 526.11 L365.12 526.53 L365.40 526.94 L365.69 527.36 L365.97 527.77 L366.26 528.18 L366.55 528.58 L366.84 528.99 L367.13 529.39 L367.43 529.80 L367.73 530.20 L368.03 530.59 L368.34 530.99 L368.65 531.38 L368.96 531.77 L369.28 532.16 L369.60 532.54 L369.92 532.92 L370.25 533.30 L370.58 533.67 L370.92 534.04 L371.26 534.41 L371.61 534.77 L371.96 535.12 L372.32 535.48 L372.68 535.82 L373.05 536.16 L373.42 536.49 L373.80 536.82 L374.19 537.13 L374.58 537.44 L374.98 537.74 L375.39 538.03 L375.81 538.31 L376.23 538.57 L376.66 538.83 L377.10 539.06 L377.55 539.29 L378.00 539.49 L378.47 539.68 L378.94 539.84 L379.42 539.98 L379.91 540.10 L380.40 540.19 L380.89 540.26 L381.39 540.30 L381.89 540.31 L382.39 540.29 L382.89 540.24 L383.38 540.17 L383.87 540.08 L384.36 539.96 L384.84 539.83 L385.32 539.68 L385.79 539.50 L386.25 539.32 L386.71 539.12 L387.16 538.90 L387.61 538.68 L388.05 538.44 L388.49 538.20 L388.92 537.94 L389.34 537.68 L389.76 537.41 L390.18 537.14 L390.59 536.86 L391.00 536.57 L391.41 536.28 L391.81 535.98 L392.21 535.68 L392.61 535.38 L393.01 535.07 L393.40 534.76 L393.79 534.45 L394.18 534.14 L394.57 533.82 L394.95 533.51 L395.34 533.19 L395.72 532.87 L396.11 532.55 L396.49 532.23 L396.88 531.91 L397.26 531.59 L397.64 531.27 L398.03 530.95 L398.41 530.63 L398.80 530.31 L399.18 529.99 L399.57 529.67 L399.96 529.36 L400.35 529.04 L400.73 528.73 L401.12 528.41 L401.51 528.10 L401.91 527.79 L402.30 527.48 L402.69 527.17 L403.08 526.86 L403.48 526.55 L403.87 526.25 L404.27 525.94 L404.67 525.64 L405.06 525.34 L405.46 525.03 L405.86 524.73 L406.26 524.43 L406.66 524.13 L407.06 523.84 L407.47 523.54 L407.87 523.24 L408.27 522.95 L408.68 522.66 L409.09 522.37 L409.49 522.08 L409.90 521.79 L410.31 521.50 L410.72 521.22 L411.13 520.93 L411.55 520.65 L411.96 520.37 L412.37 520.09 L412.79 519.81 L413.21 519.53 L413.62 519.26 L414.04 518.98 L414.46 518.71 L414.88 518.44 L415.30 518.17 L415.73 517.91 L416.15 517.64 L416.58 517.38 L417.00 517.12 L417.43 516.86 L417.86 516.60 L418.29 516.34 L418.72 516.09 L419.15 515.84 L419.58 515.59 L420.02 515.34 L420.45 515.10 L420.89 514.85 L421.33 514.61 L421.77 514.37 L422.21 514.14 L422.65 513.90 L423.09 513.67 L423.54 513.44 L423.98 513.21 L424.43 512.99 L424.88 512.77 L425.33 512.55 L425.78 512.33 L426.23 512.12 L426.68 511.91 L427.14 511.70 L427.59 511.49 L428.05 511.29 L428.51 511.09 L428.97 510.89 L429.43 510.70 L429.89 510.51 L430.35 510.32 L430.82 510.14 L431.28 509.95 L431.75 509.78 L432.22 509.60 L432.69 509.43 L433.16 509.26 L433.63 509.10 L434.11 508.94 L434.58 508.78 L435.06 508.63 L435.54 508.48 L436.02 508.34 L436.49 508.20 L436.98 508.06 L437.46 507.93 L437.94 507.80 L438.43 507.67 L438.91 507.55 L439.40 507.44 L439.88 507.33 L440.37 507.22 L440.86 507.12 L441.35 507.02 L441.84 506.93 L442.34 506.84 L442.83 506.75 L443.32 506.68 L443.82 506.60 L444.31 506.53 L444.81 506.47 L445.30 506.41 L445.80 506.36 L446.30 506.31 L446.80 506.26 L447.30 506.23 L447.79 506.19 L448.29 506.17 L448.79 506.14 L449.29 506.13 L449.79 506.12 L450.29 506.11 L450.79 506.11 L451.29 506.12 L451.79 506.13 L452.29 506.15 L452.79 506.17 L453.29 506.20 L453.79 506.23 L454.29 506.27 L454.79 506.32 L455.28 506.37 L455.78 506.43 L456.28 506.49 L456.77 506.56 L457.27 506.63 L457.76 506.71 L458.25 506.80 L458.74 506.89 L459.23 506.99 L459.72 507.09 L460.21 507.20 L460.70 507.31 L461.18 507.43 L461.67 507.56 L462.15 507.69 L462.63 507.82 L463.11 507.96 L463.59 508.11 L464.07 508.26 L464.54 508.42 L465.01 508.58 L465.48 508.75 L465.95 508.92 L466.42 509.10 L466.89 509.28 L467.35 509.47 L467.81 509.66 L468.27 509.86 L468.73 510.06 L469.18 510.27 L469.64 510.48 L470.09 510.70 L470.54 510.92 L470.98 511.14 L471.43 511.37 L471.87 511.60 L472.31 511.84 L472.75 512.08 L473.18 512.33 L473.62 512.58 L474.05 512.83 L474.48 513.09 L474.90 513.35 L475.33 513.62 L475.75 513.88 L476.17 514.16 L476.59 514.43 L477.00 514.71 L477.41 514.99 L477.82 515.28 L478.23 515.57 L478.64 515.86 L479.04 516.15 L479.44 516.45 L479.84 516.75 L480.24 517.06 L480.63 517.37 L481.02 517.68 L481.41 517.99 L481.80 518.31 L482.19 518.62 L482.57 518.94 L482.95 519.27 L483.33 519.59 L483.71 519.92 L484.08 520.25 L484.45 520.59 L484.82 520.92 L485.19 521.26 L485.56 521.60 L485.92 521.94 L486.29 522.29 L486.65 522.64 L487.00 522.99 L487.36 523.34 L487.71 523.69 L488.07 524.04 L488.42 524.40 L488.76 524.76 L489.11 525.12 L489.46 525.48 L489.80 525.85 L490.14 526.21 L490.48 526.58 L490.81 526.95 L491.15 527.32 L491.48 527.69 L491.81 528.07 L492.14 528.44 L492.47 528.82 L492.80 529.20 L493.12 529.58 L493.45 529.96 L493.77 530.34 L494.09 530.73 L494.41 531.12 L494.72 531.50 L495.04 531.89 L495.35 532.28 L495.66 532.67 L495.97 533.06 L496.28 533.46 L496.59 533.85 L496.89 534.25 L497.20 534.65 L497.50 535.04 L497.80 535.44 L498.10 535.84 L498.40 536.25 L498.69 536.65 L498.99 537.05 L499.28 537.46 L499.57 537.86 L499.86 538.27 L500.15 538.68 L500.44 539.09 L500.73 539.50 L501.01 539.91 L501.30 540.32 L501.58 540.73 L501.86 541.14 L502.14 541.56 L502.42 541.97 L502.70 542.39 L502.97 542.80 L503.25 543.22 L503.52 543.64 L503.80 544.06 L504.07 544.48 L504.34 544.90 L504.61 545.32 L504.87 545.74 L505.14 546.17 L505.41 546.59 L505.67 547.01 L505.93 547.44 L506.20 547.87 L506.46 548.29 L506.72 548.72 L506.98 549.15 L507.24 549.57 L507.49 550.00 L507.75 550.43 L508.00 550.86 L508.26 551.29 L508.51 551.73 L508.76 552.16 L509.01 552.59 L509.26 553.02 L509.51 553.46 L509.76 553.89 L510.00 554.33 L510.25 554.76 L510.49 555.20 L510.74 555.63 L510.98 556.07 L511.22 556.51 L511.46 556.95 L511.70 557.39 L511.94 557.82 L512.18 558.26 L512.42 558.70 L512.50 558.85" stroke-width="4.8" stroke-dasharray="8 6.6" stroke-linecap="round"/>
</g>
<text x="289.5" y="633" textLength="88.4" lengthAdjust="spacingAndGlyphs" font-size="28">Emitted</text>
<text x="390" y="633" textLength="60" lengthAdjust="spacingAndGlyphs" font-size="28">alpha</text>
<text x="462" y="633" textLength="84" lengthAdjust="spacingAndGlyphs" font-size="28">particle</text>
<text x="559" y="633" textLength="75" lengthAdjust="spacingAndGlyphs" font-size="28">energy</text>
<text x="646" y="633" textLength="22" lengthAdjust="spacingAndGlyphs" font-size="28">in</text>
<text x="680" y="633" textLength="54" lengthAdjust="spacingAndGlyphs" font-size="28">MeV</text>
<g transform="rotate(-90)">
<text x="-490.8" y="17.9" textLength="87.3" lengthAdjust="spacingAndGlyphs" font-size="28">Emission</text>
<text x="-391.7" y="17.9" textLength="106.2" lengthAdjust="spacingAndGlyphs" font-size="28">probability</text>
<text x="-276" y="17.9" textLength="22" lengthAdjust="spacingAndGlyphs" font-size="28">in</text>
<text x="-242" y="17.9" textLength="85.4" lengthAdjust="spacingAndGlyphs" font-size="28">arbitrary</text>
<text x="-143.75" y="17.9" textLength="48.2" lengthAdjust="spacingAndGlyphs" font-size="28">units</text>
</g>
<text x="72.5" y="587.5" textLength="14" lengthAdjust="spacingAndGlyphs" font-size="28">0</text>
<text x="347.8" y="586.4" textLength="25" lengthAdjust="spacingAndGlyphs" font-size="28">10</text>
<text x="634.7" y="587" textLength="26.4" lengthAdjust="spacingAndGlyphs" font-size="28">20</text>
<text x="922" y="588" textLength="25.4" lengthAdjust="spacingAndGlyphs" font-size="28">30</text>
<path d="M594.50 75.00 Q585.90 85.45 594.50 95.90" fill="none" stroke="#000" stroke-width="4.2" stroke-linecap="round"/>
<path d="M605.50 75.00 Q614.10 85.45 605.50 95.90" fill="none" stroke="#000" stroke-width="4.2" stroke-linecap="round"/>
<rect x="592" y="73.8" width="16.80" height="3.40" fill="#000"/>
<rect x="595.6" y="90" width="9.40" height="3.50" fill="#000"/>
<rect x="597.8" y="73.80" width="5.00" height="19.70" fill="#000"/>
<path d="M435.60 473.40 Q427.80 483.75 435.60 494.10" fill="none" stroke="#000" stroke-width="3.6" stroke-linecap="round"/>
<path d="M456.50 473.40 Q464.30 483.75 456.50 494.10" fill="none" stroke="#000" stroke-width="3.6" stroke-linecap="round"/>
<rect x="435.3" y="472.6" width="21.90" height="3.40" fill="#000"/>
<rect x="437" y="488" width="18.00" height="3.80" fill="#000"/>
<rect x="438.9" y="472.60" width="4.60" height="19.20" fill="#000"/>
<rect x="447.4" y="472.60" width="4.40" height="19.20" fill="#000"/>
<path d="M492.70 309.50 Q484.90 319.45 492.70 329.40" fill="none" stroke="#000" stroke-width="3.6" stroke-linecap="round"/>
<path d="M522.50 309.50 Q530.30 319.45 522.50 329.40" fill="none" stroke="#000" stroke-width="3.6" stroke-linecap="round"/>
<rect x="490.5" y="307.9" width="33.10" height="3.30" fill="#000"/>
<rect x="494.2" y="323.5" width="26.80" height="3.50" fill="#000"/>
<rect x="496.7" y="307.90" width="4.50" height="19.10" fill="#000"/>
<rect x="505.3" y="307.90" width="4.70" height="19.10" fill="#000"/>
<rect x="514.1" y="307.90" width="4.70" height="19.10" fill="#000"/>
<path d="M681.5 240.5 L691.5 249.5 M691.5 240.5 L681.5 249.5" stroke="#000" stroke-width="3.7" stroke-linecap="round"/>
<text x="697" y="253" font-size="26" textLength="14" lengthAdjust="spacingAndGlyphs" style="font-family:'Liberation Sans',sans-serif">5</text>
</svg>
</body></html>
